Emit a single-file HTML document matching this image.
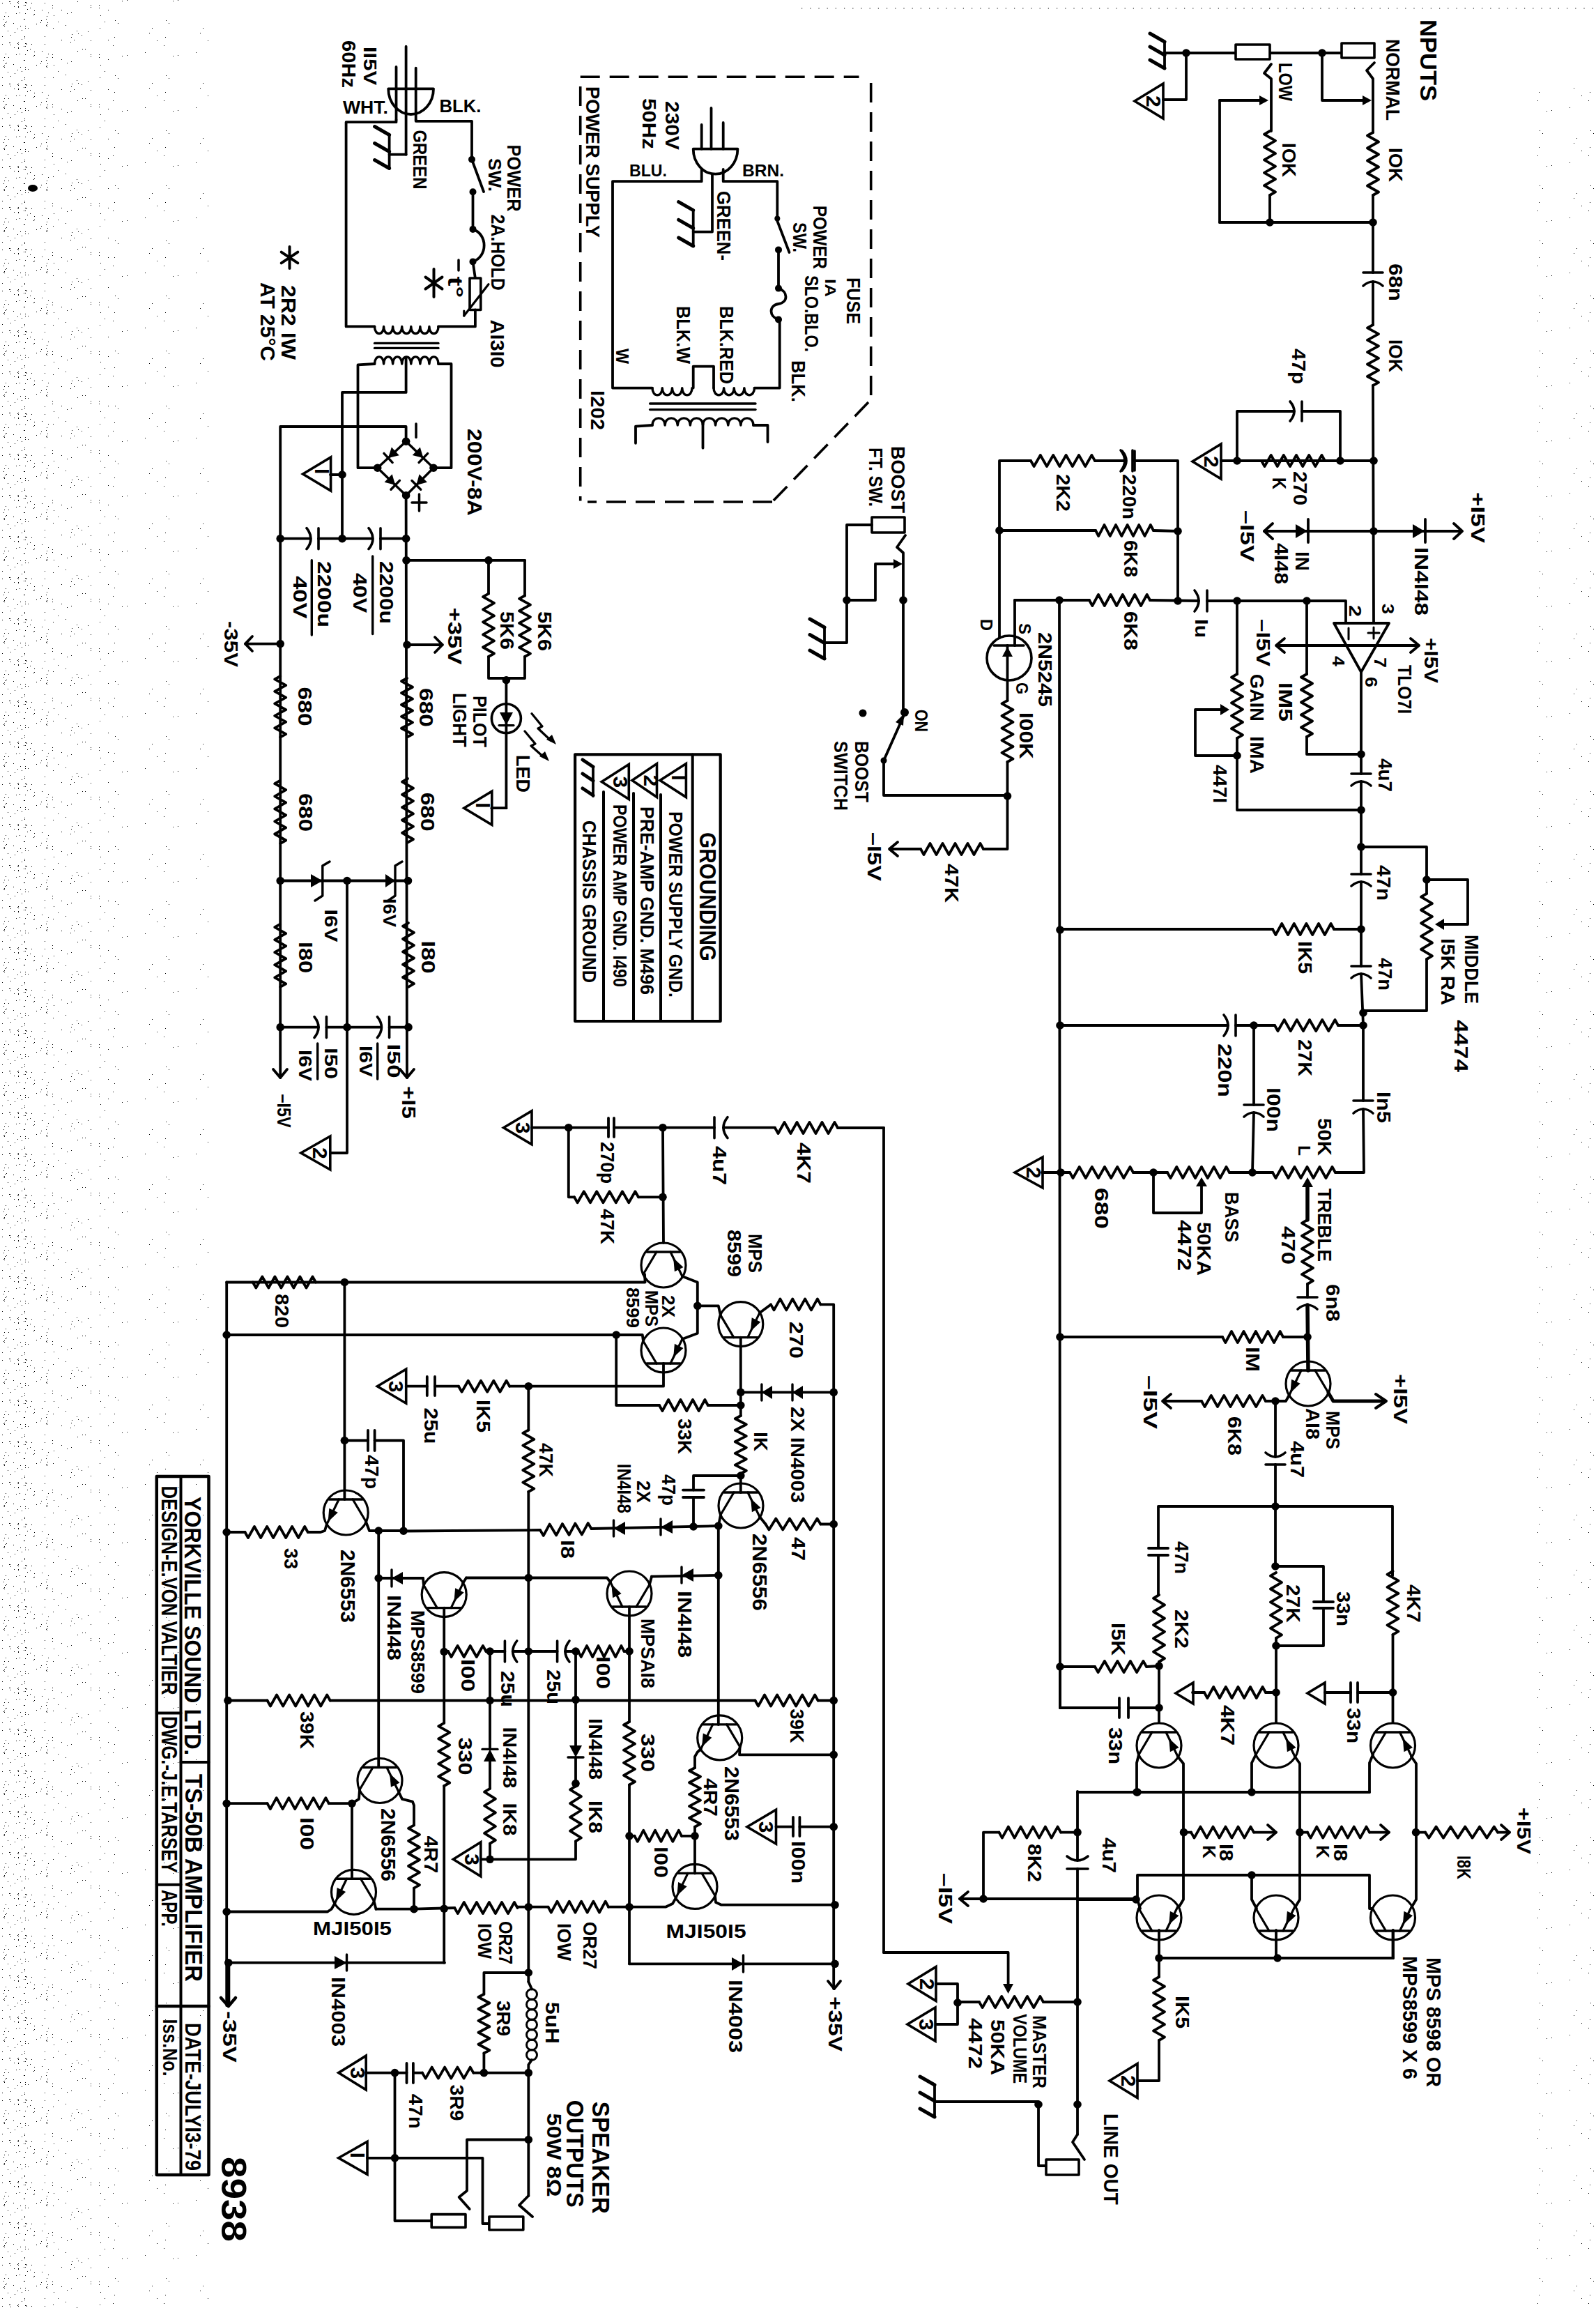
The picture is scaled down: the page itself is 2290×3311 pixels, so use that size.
<!DOCTYPE html>
<html><head><meta charset="utf-8"><style>
html,body{margin:0;padding:0;background:#fff;}
svg{display:block;}
text{font-family:"Liberation Sans",sans-serif;fill:#000;stroke:none;}
</style></head><body>
<svg width="2290" height="3311" viewBox="0 0 2290 3311" stroke="#000" stroke-linecap="round" stroke-linejoin="round">
<rect x="0" y="0" width="2290" height="3311" fill="#fff" stroke="none"/>
<defs><pattern id="sp1" width="61" height="59" patternUnits="userSpaceOnUse" stroke="none" fill="#000" shape-rendering="crispEdges"><rect x="20" y="9" width="1" height="1"/><rect x="25" y="41" width="1" height="1"/><rect x="3" y="4" width="1" height="1"/><rect x="52" y="34" width="1" height="1"/><rect x="6" y="23" width="1" height="1"/><rect x="37" y="3" width="1" height="1"/><rect x="58" y="32" width="1" height="1"/><rect x="13" y="2" width="1" height="1"/><rect x="5" y="27" width="1" height="1"/><rect x="26" y="4" width="1" height="1"/><rect x="15" y="5" width="1" height="1"/><rect x="35" y="27" width="1" height="1"/><rect x="3" y="52" width="1" height="1"/><rect x="36" y="7" width="1" height="1"/><rect x="60" y="14" width="1" height="1"/><rect x="40" y="40" width="1" height="1"/><rect x="37" y="3" width="1" height="1"/><rect x="36" y="37" width="1" height="1"/><rect x="25" y="3" width="1" height="1"/><rect x="14" y="2" width="1" height="1"/><rect x="35" y="54" width="1" height="1"/><rect x="8" y="18" width="1" height="1"/><rect x="26" y="9" width="1" height="1"/><rect x="34" y="7" width="1" height="1"/><rect x="36" y="19" width="1" height="1"/><rect x="35" y="52" width="1" height="1"/><rect x="43" y="11" width="1" height="1"/><rect x="6" y="37" width="1" height="1"/><rect x="36" y="40" width="1" height="1"/><rect x="12" y="23" width="1" height="1"/><rect x="6" y="35" width="1" height="1"/><rect x="45" y="4" width="1" height="1"/><rect x="36" y="3" width="1" height="1"/><rect x="39" y="13" width="1" height="1"/><rect x="31" y="43" width="1" height="1"/><rect x="34" y="27" width="1" height="1"/><rect x="49" y="20" width="1" height="1"/><rect x="29" y="37" width="1" height="1"/><rect x="59" y="29" width="1" height="1"/><rect x="23" y="19" width="1" height="1"/><rect x="15" y="50" width="1" height="1"/><rect x="11" y="44" width="1" height="1"/><rect x="49" y="15" width="1" height="1"/><rect x="5" y="36" width="1" height="1"/><rect x="19" y="33" width="1" height="1"/><rect x="31" y="56" width="1" height="1"/><rect x="21" y="46" width="1" height="1"/><rect x="28" y="18" width="1" height="1"/><rect x="38" y="4" width="1" height="1"/><rect x="7" y="32" width="1" height="1"/><rect x="26" y="10" width="1" height="1"/><rect x="48" y="21" width="1" height="1"/><rect x="9" y="31" width="1" height="1"/><rect x="26" y="2" width="1" height="1"/></pattern><pattern id="sp2" width="67" height="71" patternUnits="userSpaceOnUse" stroke="none" fill="#000" shape-rendering="crispEdges"><rect x="9" y="40" width="1" height="1"/><rect x="43" y="44" width="1" height="1"/><rect x="63" y="58" width="1" height="1"/><rect x="8" y="11" width="1" height="1"/><rect x="34" y="60" width="1" height="1"/><rect x="8" y="7" width="1" height="1"/><rect x="39" y="57" width="1" height="1"/><rect x="36" y="49" width="1" height="1"/><rect x="44" y="2" width="1" height="1"/><rect x="59" y="45" width="1" height="1"/><rect x="21" y="14" width="1" height="1"/><rect x="63" y="7" width="1" height="1"/><rect x="27" y="36" width="1" height="1"/><rect x="16" y="31" width="1" height="1"/><rect x="50" y="50" width="1" height="1"/><rect x="63" y="10" width="1" height="1"/><rect x="21" y="57" width="1" height="1"/><rect x="51" y="70" width="1" height="1"/><rect x="35" y="17" width="1" height="1"/><rect x="55" y="70" width="1" height="1"/><rect x="35" y="53" width="1" height="1"/><rect x="45" y="48" width="1" height="1"/><rect x="29" y="19" width="1" height="1"/><rect x="10" y="22" width="1" height="1"/></pattern><pattern id="sp3" width="73" height="79" patternUnits="userSpaceOnUse" stroke="none" fill="#000" shape-rendering="crispEdges"><rect x="19" y="29" width="1" height="1"/><rect x="29" y="1" width="1" height="1"/><rect x="62" y="75" width="1" height="1"/><rect x="23" y="33" width="1" height="1"/><rect x="36" y="0" width="1" height="1"/><rect x="18" y="53" width="1" height="1"/><rect x="68" y="47" width="1" height="1"/><rect x="72" y="40" width="1" height="1"/><rect x="16" y="65" width="1" height="1"/><rect x="6" y="58" width="1" height="1"/></pattern></defs><g stroke="none" fill="#000" shape-rendering="crispEdges"><rect x="0" y="0" width="70" height="3311" fill="url(#sp1)"/><rect x="70" y="0" width="90" height="3311" fill="url(#sp2)"/><rect x="160" y="0" width="140" height="3311" fill="url(#sp3)"/><rect x="2200" y="120" width="90" height="3191" fill="url(#sp3)"/></g><line x1="1150" y1="12" x2="2290" y2="12" stroke-width="1.2" stroke-dasharray="1.2 11" stroke-linecap="butt"/>
<line x1="1671" y1="60" x2="1671" y2="98" stroke-width="3.8"/>
<line x1="1671" y1="60.0" x2="1650" y2="48.0" stroke-width="5"/>
<line x1="1671" y1="79.0" x2="1650" y2="67.0" stroke-width="5"/>
<line x1="1671" y1="98.0" x2="1650" y2="86.0" stroke-width="5"/>
<line x1="1671" y1="76" x2="1925" y2="76" stroke-width="3.8"/>
<circle cx="1702" cy="76" r="5.8" fill="#000" stroke="none"/>
<polyline points="1702,76 1702,143 1669,143" fill="none" stroke-width="3.8"/>
<polygon points="1628,145 1669,120.0 1669,170.0" fill="none" stroke-width="3.6" stroke-linejoin="miter"/>
<text transform="translate(1645,137) rotate(90)" font-size="30" font-weight="bold" text-anchor="start">2</text>
<rect x="1773" y="64" width="49" height="21" fill="#fff" stroke-width="3.6"/>
<circle cx="1897" cy="76" r="5.8" fill="#000" stroke="none"/>
<rect x="1925" y="62" width="47" height="21" fill="#fff" stroke-width="3.6"/>
<polyline points="1972,90 1961,101 1970,113 1970,190" fill="none" stroke-width="3.8"/>
<polyline points="1897,76 1897,144 1958,144" fill="none" stroke-width="3.8"/>
<polygon points="1955,137 1968,144 1955,151" fill="#000" stroke="none"/>
<polyline points="1970,190 1962.0,194.5 1978.0,203.5 1962.0,212.5 1978.0,221.5 1962.0,230.5 1978.0,239.5 1962.0,248.5 1978.0,257.5 1962.0,266.5 1978.0,275.5 1970,280" fill="none" stroke-width="3.8"/>
<line x1="1970" y1="280" x2="1970" y2="391" stroke-width="3.8"/>
<circle cx="1970" cy="319" r="5.8" fill="#000" stroke="none"/>
<polyline points="1824,92 1814,105 1824,113 1824,188" fill="none" stroke-width="3.8"/>
<polyline points="1750,144 1810,144" fill="none" stroke-width="3.8"/>
<polygon points="1807,137 1820,144 1807,151" fill="#000" stroke="none"/>
<polyline points="1822,188 1814.0,192.6 1830.0,201.8 1814.0,211.0 1830.0,220.2 1814.0,229.4 1830.0,238.6 1814.0,247.8 1830.0,257.0 1814.0,266.2 1830.0,275.4 1822,280" fill="none" stroke-width="3.8"/>
<line x1="1822" y1="280" x2="1822" y2="319" stroke-width="3.8"/>
<circle cx="1822" cy="319" r="5.8" fill="#000" stroke="none"/>
<line x1="1750" y1="144" x2="1750" y2="319" stroke-width="3.8"/>
<line x1="1750" y1="319" x2="1970" y2="319" stroke-width="3.8"/>
<line x1="1956.0" y1="391" x2="1984.0" y2="391" stroke-width="3.6"/>
<path d="M1956.0,410 Q1970,398 1984.0,410" fill="none" stroke-width="3.6"/>
<line x1="1970" y1="404" x2="1970" y2="466" stroke-width="3.8"/>
<polyline points="1970,466 1962.0,470.4 1978.0,479.1 1962.0,487.8 1978.0,496.4 1962.0,505.1 1978.0,513.9 1962.0,522.5 1978.0,531.2 1962.0,540.0 1978.0,548.6 1970,553" fill="none" stroke-width="3.8"/>
<line x1="1970" y1="553" x2="1971" y2="894" stroke-width="3.8"/>
<text transform="translate(2038,28) rotate(90)" font-size="33" font-weight="bold" text-anchor="start" textLength="117" lengthAdjust="spacingAndGlyphs">NPUTS</text>
<text transform="translate(1989,56) rotate(90)" font-size="28" font-weight="bold" text-anchor="start" textLength="117" lengthAdjust="spacingAndGlyphs">NORMAL</text>
<text transform="translate(1835,90) rotate(90)" font-size="28" font-weight="bold" text-anchor="start" textLength="55" lengthAdjust="spacingAndGlyphs">LOW</text>
<text transform="translate(1993,212) rotate(90)" font-size="27" font-weight="bold" text-anchor="start" textLength="49" lengthAdjust="spacingAndGlyphs">IOK</text>
<text transform="translate(1840,205) rotate(90)" font-size="27" font-weight="bold" text-anchor="start" textLength="49" lengthAdjust="spacingAndGlyphs">IOK</text>
<text transform="translate(1993,378) rotate(90)" font-size="28" font-weight="bold" text-anchor="start" textLength="54" lengthAdjust="spacingAndGlyphs">68n</text>
<text transform="translate(1993,487) rotate(90)" font-size="27" font-weight="bold" text-anchor="start" textLength="47" lengthAdjust="spacingAndGlyphs">IOK</text>
<text transform="translate(1854,500) rotate(90)" font-size="28" font-weight="bold" text-anchor="start" textLength="51" lengthAdjust="spacingAndGlyphs">47p</text>
<polyline points="1775,661 1775,590 1857,590" fill="none" stroke-width="3.8"/>
<polyline points="1868,590 1923,590 1923,661" fill="none" stroke-width="3.8"/>
<line x1="1868" y1="576.0" x2="1868" y2="604.0" stroke-width="3.6"/>
<path d="M1851,576.0 Q1863,590 1851,604.0" fill="none" stroke-width="3.6"/>
<line x1="1752" y1="661" x2="1971" y2="661" stroke-width="3.8"/>
<polyline points="1810,661 1814.5,669.0 1823.7,653.0 1832.8,669.0 1841.8,653.0 1851.0,669.0 1860.0,653.0 1869.2,669.0 1878.2,653.0 1887.3,669.0 1896.5,653.0 1901,661" fill="none" stroke-width="3.8"/>
<circle cx="1775" cy="661" r="5.8" fill="#000" stroke="none"/>
<circle cx="1923" cy="661" r="5.8" fill="#000" stroke="none"/>
<circle cx="1971" cy="661" r="5.8" fill="#000" stroke="none"/>
<polygon points="1711,662 1752,637.0 1752,687.0" fill="none" stroke-width="3.6" stroke-linejoin="miter"/>
<text transform="translate(1728,654) rotate(90)" font-size="30" font-weight="bold" text-anchor="start">2</text>
<text transform="translate(1856,676) rotate(90)" font-size="27" font-weight="bold" text-anchor="start" textLength="49" lengthAdjust="spacingAndGlyphs">270</text>
<text transform="translate(1826,685) rotate(90)" font-size="27" font-weight="bold" text-anchor="start" textLength="17" lengthAdjust="spacingAndGlyphs">K</text>
<line x1="1814" y1="762" x2="2096" y2="762" stroke-width="3.8"/>
<polyline points="1826,751 1814,762 1826,773" fill="none" stroke-width="3.8"/>
<polyline points="2086,751 2098,762 2086,773" fill="none" stroke-width="3.8"/>
<polygon points="1859,752 1876,762 1859,772" fill="#000" stroke="none"/>
<line x1="1877" y1="745" x2="1877" y2="778" stroke-width="3.8"/>
<polygon points="2027,752 2044,762 2027,772" fill="#000" stroke="none"/>
<line x1="2045" y1="745" x2="2045" y2="778" stroke-width="3.8"/>
<circle cx="1971" cy="762" r="5.8" fill="#000" stroke="none"/>
<text transform="translate(2111,706) rotate(90)" font-size="28" font-weight="bold" text-anchor="start" textLength="73" lengthAdjust="spacingAndGlyphs">+I5V</text>
<text transform="translate(2030,785) rotate(90)" font-size="28" font-weight="bold" text-anchor="start" textLength="98" lengthAdjust="spacingAndGlyphs">IN4I48</text>
<text transform="translate(1859,791) rotate(90)" font-size="27" font-weight="bold" text-anchor="start" textLength="28" lengthAdjust="spacingAndGlyphs">IN</text>
<text transform="translate(1829,779) rotate(90)" font-size="27" font-weight="bold" text-anchor="start" textLength="59" lengthAdjust="spacingAndGlyphs">4I48</text>
<text transform="translate(1780,732) rotate(90)" font-size="28" font-weight="bold" text-anchor="start" textLength="74" lengthAdjust="spacingAndGlyphs">–I5V</text>
<polyline points="1626,661 1690,661 1690,862" fill="none" stroke-width="3.8"/>
<line x1="1628" y1="647.0" x2="1628" y2="675.0" stroke-width="3.6"/>
<path d="M1610,647.0 Q1622,661 1610,675.0" fill="none" stroke-width="3.6"/>
<circle cx="1690" cy="762" r="5.8" fill="#000" stroke="none"/>
<line x1="1434" y1="761" x2="1572" y2="761" stroke-width="3.8"/>
<polyline points="1572,761 1576.2,769.0 1584.5,753.0 1592.8,769.0 1601.0,753.0 1609.3,769.0 1617.7,753.0 1626.0,769.0 1634.2,753.0 1642.5,769.0 1650.8,753.0 1655,761" fill="none" stroke-width="3.8"/>
<line x1="1655" y1="761" x2="1690" y2="762" stroke-width="3.8"/>
<circle cx="1690" cy="862" r="5.8" fill="#000" stroke="none"/>
<line x1="1456" y1="861" x2="1563" y2="861" stroke-width="3.8"/>
<polyline points="1563,861 1567.3,869.0 1576.0,853.0 1584.8,869.0 1593.5,853.0 1602.2,869.0 1610.8,853.0 1619.5,869.0 1628.2,853.0 1637.0,869.0 1645.7,853.0 1650,861" fill="none" stroke-width="3.8"/>
<line x1="1650" y1="861" x2="1720" y2="862" stroke-width="3.8"/>
<line x1="1732" y1="847.0" x2="1732" y2="877.0" stroke-width="3.6"/>
<path d="M1714,847.0 Q1726,862 1714,877.0" fill="none" stroke-width="3.6"/>
<polyline points="1732,862 1931,862 1931,894" fill="none" stroke-width="3.8"/>
<circle cx="1775" cy="862" r="5.8" fill="#000" stroke="none"/>
<circle cx="1875" cy="862" r="5.8" fill="#000" stroke="none"/>
<text transform="translate(1611,680) rotate(90)" font-size="28" font-weight="bold" text-anchor="start" textLength="65" lengthAdjust="spacingAndGlyphs">220n</text>
<text transform="translate(1613,775) rotate(90)" font-size="28" font-weight="bold" text-anchor="start" textLength="53" lengthAdjust="spacingAndGlyphs">6K8</text>
<text transform="translate(1613,877) rotate(90)" font-size="28" font-weight="bold" text-anchor="start" textLength="56" lengthAdjust="spacingAndGlyphs">6K8</text>
<text transform="translate(1715,888) rotate(90)" font-size="26" font-weight="bold" text-anchor="start" textLength="27" lengthAdjust="spacingAndGlyphs">Iu</text>
<path d="M1914,894 L1993,894 L1953,964 Z" fill="none" stroke-width="3.8"/>
<line x1="1935" y1="901" x2="1935" y2="917" stroke-width="3"/>
<line x1="1971" y1="900" x2="1971" y2="916" stroke-width="3"/>
<line x1="1963" y1="908" x2="1979" y2="908" stroke-width="3"/>
<text transform="translate(1936,868) rotate(90)" font-size="24" font-weight="bold" text-anchor="start" textLength="17" lengthAdjust="spacingAndGlyphs">2</text>
<text transform="translate(1983,866) rotate(90)" font-size="24" font-weight="bold" text-anchor="start" textLength="15" lengthAdjust="spacingAndGlyphs">3</text>
<line x1="1833" y1="926" x2="2034" y2="926" stroke-width="3.8"/>
<polyline points="1843,916 1831,926 1843,936" fill="none" stroke-width="3.8"/>
<polyline points="2024,916 2036,926 2024,936" fill="none" stroke-width="3.8"/>
<text transform="translate(1912,941) rotate(90)" font-size="24" font-weight="bold" text-anchor="start" textLength="15" lengthAdjust="spacingAndGlyphs">4</text>
<text transform="translate(1972,943) rotate(90)" font-size="24" font-weight="bold" text-anchor="start" textLength="15" lengthAdjust="spacingAndGlyphs">7</text>
<text transform="translate(1803,888) rotate(90)" font-size="28" font-weight="bold" text-anchor="start" textLength="68" lengthAdjust="spacingAndGlyphs">–I5V</text>
<text transform="translate(2044,915) rotate(90)" font-size="28" font-weight="bold" text-anchor="start" textLength="65" lengthAdjust="spacingAndGlyphs">+I5V</text>
<text transform="translate(2006,954) rotate(90)" font-size="27" font-weight="bold" text-anchor="start" textLength="70" lengthAdjust="spacingAndGlyphs">TLO7I</text>
<text transform="translate(1959,971) rotate(90)" font-size="24" font-weight="bold" text-anchor="start" textLength="15" lengthAdjust="spacingAndGlyphs">6</text>
<line x1="1953" y1="964" x2="1953" y2="1110" stroke-width="3.8"/>
<circle cx="1953" cy="1082" r="5.8" fill="#000" stroke="none"/>
<line x1="1939.0" y1="1110" x2="1967.0" y2="1110" stroke-width="3.6"/>
<path d="M1939.0,1127 Q1953,1115 1967.0,1127" fill="none" stroke-width="3.6"/>
<text transform="translate(1978,1088) rotate(90)" font-size="27" font-weight="bold" text-anchor="start" textLength="48" lengthAdjust="spacingAndGlyphs">4u7</text>
<line x1="1875" y1="862" x2="1875" y2="967" stroke-width="3.8"/>
<polyline points="1875,967 1867.0,971.5 1883.0,980.5 1867.0,989.5 1883.0,998.5 1867.0,1007.5 1883.0,1016.5 1867.0,1025.5 1883.0,1034.5 1867.0,1043.5 1883.0,1052.5 1875,1057" fill="none" stroke-width="3.8"/>
<polyline points="1875,1057 1875,1082 1953,1082" fill="none" stroke-width="3.8"/>
<text transform="translate(1835,979) rotate(90)" font-size="27" font-weight="bold" text-anchor="start" textLength="56" lengthAdjust="spacingAndGlyphs">IM5</text>
<line x1="1775" y1="862" x2="1775" y2="967" stroke-width="3.8"/>
<polyline points="1775,967 1767.0,971.6 1783.0,980.8 1767.0,990.0 1783.0,999.2 1767.0,1008.4 1783.0,1017.6 1767.0,1026.8 1783.0,1036.0 1767.0,1045.2 1783.0,1054.4 1775,1059" fill="none" stroke-width="3.8"/>
<line x1="1775" y1="1059" x2="1775" y2="1150" stroke-width="3.8"/>
<circle cx="1775" cy="1084" r="5.8" fill="#000" stroke="none"/>
<polyline points="1756,1018 1715,1018 1715,1084 1775,1084" fill="none" stroke-width="3.8"/>
<polygon points="1751,1010 1764,1018 1751,1026" fill="#000" stroke="none"/>
<text transform="translate(1794,967) rotate(90)" font-size="27" font-weight="bold" text-anchor="start" textLength="68" lengthAdjust="spacingAndGlyphs">GAIN</text>
<text transform="translate(1794,1056) rotate(90)" font-size="27" font-weight="bold" text-anchor="start" textLength="54" lengthAdjust="spacingAndGlyphs">IMA</text>
<text transform="translate(1741,1097) rotate(90)" font-size="27" font-weight="bold" text-anchor="start" textLength="55" lengthAdjust="spacingAndGlyphs">447I</text>
<line x1="1953" y1="1121" x2="1953" y2="1254" stroke-width="3.8"/>
<polyline points="1775,1150 1775,1162 1953,1162" fill="none" stroke-width="3.8"/>
<circle cx="1953" cy="1162" r="5.8" fill="#000" stroke="none"/>
<circle cx="1953" cy="1215" r="5.8" fill="#000" stroke="none"/>
<polyline points="1953,1215 2047,1215 2047,1282" fill="none" stroke-width="3.8"/>
<circle cx="2047" cy="1262" r="5.8" fill="#000" stroke="none"/>
<polyline points="2047,1262 2106,1262 2106,1326 2068,1326" fill="none" stroke-width="3.8"/>
<polygon points="2072,1318 2059,1326 2072,1334" fill="#000" stroke="none"/>
<polyline points="2047,1282 2039.0,1286.7 2055.0,1296.1 2039.0,1305.5 2055.0,1314.9 2039.0,1324.3 2055.0,1333.7 2039.0,1343.1 2055.0,1352.5 2039.0,1361.9 2055.0,1371.3 2047,1376" fill="none" stroke-width="3.8"/>
<polyline points="2047,1376 2047,1450 1956,1450" fill="none" stroke-width="3.8"/>
<line x1="1939.0" y1="1254" x2="1967.0" y2="1254" stroke-width="3.6"/>
<path d="M1939.0,1271 Q1953,1259 1967.0,1271" fill="none" stroke-width="3.6"/>
<line x1="1953" y1="1265" x2="1953" y2="1386" stroke-width="3.8"/>
<circle cx="1953" cy="1333" r="5.8" fill="#000" stroke="none"/>
<polyline points="1826,1333 1830.4,1341.0 1839.2,1325.0 1848.0,1341.0 1856.8,1325.0 1865.6,1341.0 1874.4,1325.0 1883.2,1341.0 1892.0,1325.0 1900.8,1341.0 1909.6,1325.0 1914,1333" fill="none" stroke-width="3.8"/>
<line x1="1914" y1="1333" x2="1953" y2="1333" stroke-width="3.8"/>
<line x1="1521" y1="1333" x2="1826" y2="1333" stroke-width="3.8"/>
<line x1="1939.0" y1="1386" x2="1967.0" y2="1386" stroke-width="3.6"/>
<path d="M1939.0,1403 Q1953,1391 1967.0,1403" fill="none" stroke-width="3.6"/>
<line x1="1953" y1="1397" x2="1956" y2="1471" stroke-width="3.8"/>
<circle cx="1956" cy="1453" r="5.8" fill="#000" stroke="none"/>
<circle cx="1956" cy="1471" r="5.8" fill="#000" stroke="none"/>
<polyline points="1829,1471 1833.5,1479.0 1842.7,1463.0 1851.8,1479.0 1860.8,1463.0 1870.0,1479.0 1879.0,1463.0 1888.2,1479.0 1897.2,1463.0 1906.3,1479.0 1915.5,1463.0 1920,1471" fill="none" stroke-width="3.8"/>
<line x1="1920" y1="1471" x2="1956" y2="1471" stroke-width="3.8"/>
<line x1="1773" y1="1471" x2="1829" y2="1471" stroke-width="3.8"/>
<circle cx="1799" cy="1471" r="5.8" fill="#000" stroke="none"/>
<line x1="1773" y1="1456.0" x2="1773" y2="1486.0" stroke-width="3.6"/>
<path d="M1756,1456.0 Q1768,1471 1756,1486.0" fill="none" stroke-width="3.6"/>
<line x1="1521" y1="1471" x2="1762" y2="1471" stroke-width="3.8"/>
<line x1="1799" y1="1471" x2="1799" y2="1585" stroke-width="3.8"/>
<line x1="1785.0" y1="1585" x2="1813.0" y2="1585" stroke-width="3.6"/>
<path d="M1785.0,1602 Q1799,1590 1813.0,1602" fill="none" stroke-width="3.6"/>
<line x1="1799" y1="1596" x2="1797" y2="1682" stroke-width="3.8"/>
<line x1="1956" y1="1471" x2="1956" y2="1579" stroke-width="3.8"/>
<line x1="1942.0" y1="1579" x2="1970.0" y2="1579" stroke-width="3.6"/>
<path d="M1942.0,1597 Q1956,1585 1970.0,1597" fill="none" stroke-width="3.6"/>
<polyline points="1956,1591 1957,1682 1916,1682" fill="none" stroke-width="3.8"/>
<text transform="translate(1976,1241) rotate(90)" font-size="27" font-weight="bold" text-anchor="start" textLength="51" lengthAdjust="spacingAndGlyphs">47n</text>
<text transform="translate(1863,1350) rotate(90)" font-size="27" font-weight="bold" text-anchor="start" textLength="47" lengthAdjust="spacingAndGlyphs">IK5</text>
<text transform="translate(1978,1374) rotate(90)" font-size="27" font-weight="bold" text-anchor="start" textLength="47" lengthAdjust="spacingAndGlyphs">47n</text>
<text transform="translate(2102,1341) rotate(90)" font-size="28" font-weight="bold" text-anchor="start" textLength="99" lengthAdjust="spacingAndGlyphs">MIDDLE</text>
<text transform="translate(2068,1346) rotate(90)" font-size="28" font-weight="bold" text-anchor="start" textLength="96" lengthAdjust="spacingAndGlyphs">I5K RA</text>
<text transform="translate(2087,1463) rotate(90)" font-size="28" font-weight="bold" text-anchor="start" textLength="75" lengthAdjust="spacingAndGlyphs">4474</text>
<text transform="translate(1863,1491) rotate(90)" font-size="28" font-weight="bold" text-anchor="start" textLength="53" lengthAdjust="spacingAndGlyphs">27K</text>
<text transform="translate(1748,1497) rotate(90)" font-size="28" font-weight="bold" text-anchor="start" textLength="77" lengthAdjust="spacingAndGlyphs">220n</text>
<text transform="translate(1818,1560) rotate(90)" font-size="27" font-weight="bold" text-anchor="start" textLength="64" lengthAdjust="spacingAndGlyphs">I00n</text>
<text transform="translate(1976,1566) rotate(90)" font-size="27" font-weight="bold" text-anchor="start" textLength="45" lengthAdjust="spacingAndGlyphs">In5</text>
<text transform="translate(1891,1604) rotate(90)" font-size="28" font-weight="bold" text-anchor="start" textLength="54" lengthAdjust="spacingAndGlyphs">50K</text>
<text transform="translate(1863,1643) rotate(90)" font-size="24" font-weight="bold" text-anchor="start" textLength="15" lengthAdjust="spacingAndGlyphs">L</text>
<polyline points="1826,1682 1830.5,1690.0 1839.5,1674.0 1848.5,1690.0 1857.5,1674.0 1866.5,1690.0 1875.5,1674.0 1884.5,1690.0 1893.5,1674.0 1902.5,1690.0 1911.5,1674.0 1916,1682" fill="none" stroke-width="3.8"/>
<line x1="1797" y1="1682" x2="1826" y2="1682" stroke-width="3.8"/>
<circle cx="1797" cy="1682" r="5.8" fill="#000" stroke="none"/>
<polyline points="1675,1682 1679.5,1690.0 1688.3,1674.0 1697.2,1690.0 1706.2,1674.0 1715.0,1690.0 1724.0,1674.0 1732.8,1690.0 1741.8,1674.0 1750.7,1690.0 1759.5,1674.0 1764,1682" fill="none" stroke-width="3.8"/>
<line x1="1764" y1="1682" x2="1797" y2="1682" stroke-width="3.8"/>
<line x1="1655" y1="1682" x2="1675" y2="1682" stroke-width="3.8"/>
<circle cx="1655" cy="1682" r="5.8" fill="#000" stroke="none"/>
<line x1="1495" y1="1682" x2="1535" y2="1682" stroke-width="3.8"/>
<polyline points="1535,1682 1539.5,1690.0 1548.7,1674.0 1557.8,1690.0 1566.8,1674.0 1576.0,1690.0 1585.0,1674.0 1594.2,1690.0 1603.2,1674.0 1612.3,1690.0 1621.5,1674.0 1626,1682" fill="none" stroke-width="3.8"/>
<line x1="1626" y1="1682" x2="1655" y2="1682" stroke-width="3.8"/>
<polygon points="1716,1702 1724,1689 1732,1702" fill="#000" stroke="none"/>
<polyline points="1724,1700 1724,1740 1655,1740 1655,1682" fill="none" stroke-width="3.8"/>
<polygon points="1868,1703 1876,1689 1884,1703" fill="#000" stroke="none"/>
<line x1="1876" y1="1700" x2="1876" y2="1750" stroke-width="5.5"/>
<polyline points="1876,1750 1868.0,1754.6 1884.0,1763.8 1868.0,1773.0 1884.0,1782.2 1868.0,1791.4 1884.0,1800.6 1868.0,1809.8 1884.0,1819.0 1868.0,1828.2 1884.0,1837.4 1876,1842" fill="none" stroke-width="3.8"/>
<line x1="1876" y1="1842" x2="1876" y2="1861" stroke-width="3.8"/>
<line x1="1862.0" y1="1861" x2="1890.0" y2="1861" stroke-width="3.6"/>
<path d="M1862.0,1878 Q1876,1866 1890.0,1878" fill="none" stroke-width="3.6"/>
<line x1="1876" y1="1872" x2="1877" y2="1966" stroke-width="5.5"/>
<circle cx="1876" cy="1918" r="5.8" fill="#000" stroke="none"/>
<polyline points="1754,1918 1758.3,1926.0 1767.0,1910.0 1775.8,1926.0 1784.5,1910.0 1793.2,1926.0 1801.8,1910.0 1810.5,1926.0 1819.2,1910.0 1828.0,1926.0 1836.7,1910.0 1841,1918" fill="none" stroke-width="3.8"/>
<line x1="1841" y1="1918" x2="1876" y2="1918" stroke-width="3.8"/>
<line x1="1521" y1="1918" x2="1754" y2="1918" stroke-width="3.8"/>
<circle cx="1877" cy="1985" r="32" fill="none" stroke-width="3.2"/>
<line x1="1853.0" y1="1966.0" x2="1901.0" y2="1966.0" stroke-width="3.4"/>
<line x1="1867.0" y1="1966.0" x2="1850.0" y2="2001.0" stroke-width="3.2"/>
<line x1="1887.0" y1="1966.0" x2="1906.0" y2="1998.0" stroke-width="3.2"/>
<polygon points="1851.4,1998.2 1853.1,1978.7 1865.6,1984.8" fill="#000" stroke="none"/>
<polyline points="1850,2001 1845,2010 1831,2010" fill="none" stroke-width="3.8"/>
<polyline points="1906,1998 1913,2010 1985,2010" fill="none" stroke-width="5"/>
<polyline points="1974,2000 1989,2010 1974,2020" fill="none" stroke-width="4"/>
<polyline points="1724,2010 1728.6,2018.0 1737.8,2002.0 1747.0,2018.0 1756.2,2002.0 1765.4,2018.0 1774.6,2002.0 1783.8,2018.0 1793.0,2002.0 1802.2,2018.0 1811.4,2002.0 1816,2010" fill="none" stroke-width="3.8"/>
<line x1="1816" y1="2010" x2="1831" y2="2010" stroke-width="3.8"/>
<line x1="1670" y1="2010" x2="1724" y2="2010" stroke-width="3.8"/>
<polyline points="1680,2000 1668,2010 1680,2020" fill="none" stroke-width="3.8"/>
<circle cx="1830" cy="2010" r="5.8" fill="#000" stroke="none"/>
<line x1="1830" y1="2010" x2="1830" y2="2090" stroke-width="3.8"/>
<line x1="1816.0" y1="2101" x2="1844.0" y2="2101" stroke-width="3.6"/>
<path d="M1816.0,2084 Q1830,2096 1844.0,2084" fill="none" stroke-width="3.6"/>
<line x1="1830" y1="2101" x2="1830" y2="2248" stroke-width="3.8"/>
<circle cx="1830" cy="2161" r="5.8" fill="#000" stroke="none"/>
<polyline points="1662,2221 1662,2161 1998,2161 1998,2260" fill="none" stroke-width="3.8"/>
<text transform="translate(1788,1932) rotate(90)" font-size="27" font-weight="bold" text-anchor="start" textLength="36" lengthAdjust="spacingAndGlyphs">IM</text>
<text transform="translate(1641,1973) rotate(90)" font-size="28" font-weight="bold" text-anchor="start" textLength="77" lengthAdjust="spacingAndGlyphs">–I5V</text>
<text transform="translate(1762,2032) rotate(90)" font-size="28" font-weight="bold" text-anchor="start" textLength="56" lengthAdjust="spacingAndGlyphs">6K8</text>
<text transform="translate(1903,2024) rotate(90)" font-size="28" font-weight="bold" text-anchor="start" textLength="55" lengthAdjust="spacingAndGlyphs">MPS</text>
<text transform="translate(1874,2020) rotate(90)" font-size="28" font-weight="bold" text-anchor="start" textLength="45" lengthAdjust="spacingAndGlyphs">AI8</text>
<text transform="translate(2000,1971) rotate(90)" font-size="28" font-weight="bold" text-anchor="start" textLength="72" lengthAdjust="spacingAndGlyphs">+I5V</text>
<text transform="translate(1852,2067) rotate(90)" font-size="28" font-weight="bold" text-anchor="start" textLength="53" lengthAdjust="spacingAndGlyphs">4u7</text>
<text transform="translate(1758,1710) rotate(90)" font-size="28" font-weight="bold" text-anchor="start" textLength="72" lengthAdjust="spacingAndGlyphs">BASS</text>
<text transform="translate(1718,1753) rotate(90)" font-size="28" font-weight="bold" text-anchor="start" textLength="77" lengthAdjust="spacingAndGlyphs">50KA</text>
<text transform="translate(1690,1750) rotate(90)" font-size="28" font-weight="bold" text-anchor="start" textLength="73" lengthAdjust="spacingAndGlyphs">4472</text>
<text transform="translate(1891,1705) rotate(90)" font-size="28" font-weight="bold" text-anchor="start" textLength="105" lengthAdjust="spacingAndGlyphs">TREBLE</text>
<text transform="translate(1839,1759) rotate(90)" font-size="28" font-weight="bold" text-anchor="start" textLength="55" lengthAdjust="spacingAndGlyphs">470</text>
<text transform="translate(1903,1842) rotate(90)" font-size="28" font-weight="bold" text-anchor="start" textLength="54" lengthAdjust="spacingAndGlyphs">6n8</text>
<line x1="1662" y1="2232" x2="1662" y2="2288" stroke-width="3.8"/>
<line x1="1648" y1="2221" x2="1676" y2="2221" stroke-width="3.8"/>
<line x1="1648" y1="2231" x2="1676" y2="2231" stroke-width="3.8"/>
<polyline points="1663,2288 1655.0,2292.8 1671.0,2302.4 1655.0,2312.0 1671.0,2321.6 1655.0,2331.2 1671.0,2340.8 1655.0,2350.4 1671.0,2360.0 1655.0,2369.6 1671.0,2379.2 1663,2384" fill="none" stroke-width="3.8"/>
<line x1="1663" y1="2384" x2="1663" y2="2471" stroke-width="3.8"/>
<circle cx="1663" cy="2390" r="5.8" fill="#000" stroke="none"/>
<line x1="1521" y1="2391" x2="1571" y2="2391" stroke-width="3.8"/>
<polyline points="1571,2391 1575.6,2399.0 1584.9,2383.0 1594.1,2399.0 1603.4,2383.0 1612.6,2399.0 1621.9,2383.0 1631.1,2399.0 1640.4,2383.0 1645,2391" fill="none" stroke-width="3.8"/>
<line x1="1645" y1="2391" x2="1663" y2="2390" stroke-width="3.8"/>
<circle cx="1663" cy="2450" r="5.8" fill="#000" stroke="none"/>
<polyline points="1621,2450 1663,2450" fill="none" stroke-width="3.8"/>
<line x1="1619" y1="2436" x2="1619" y2="2464" stroke-width="3.8"/>
<line x1="1606" y1="2436" x2="1606" y2="2464" stroke-width="3.8"/>
<line x1="1521" y1="2450" x2="1606" y2="2450" stroke-width="3.8"/>
<circle cx="1830" cy="2247" r="5.8" fill="#000" stroke="none"/>
<polyline points="1831,2256 1823.0,2260.7 1839.0,2270.1 1823.0,2279.5 1839.0,2288.9 1823.0,2298.3 1839.0,2307.7 1823.0,2317.1 1839.0,2326.5 1823.0,2335.9 1839.0,2345.3 1831,2350" fill="none" stroke-width="3.8"/>
<line x1="1831" y1="2350" x2="1831" y2="2471" stroke-width="3.8"/>
<polyline points="1830,2247 1899,2247 1899,2298" fill="none" stroke-width="3.8"/>
<line x1="1885" y1="2298" x2="1913" y2="2298" stroke-width="3.8"/>
<line x1="1885" y1="2307" x2="1913" y2="2307" stroke-width="3.8"/>
<polyline points="1899,2307 1899,2361 1831,2361" fill="none" stroke-width="3.8"/>
<circle cx="1831" cy="2361" r="5.8" fill="#000" stroke="none"/>
<circle cx="1831" cy="2428" r="5.8" fill="#000" stroke="none"/>
<polyline points="1728,2428 1732.4,2436.0 1741.2,2420.0 1750.0,2436.0 1758.8,2420.0 1767.6,2436.0 1776.4,2420.0 1785.2,2436.0 1794.0,2420.0 1802.8,2436.0 1811.6,2420.0 1816,2428" fill="none" stroke-width="3.8"/>
<line x1="1816" y1="2428" x2="1831" y2="2428" stroke-width="3.8"/>
<line x1="1711" y1="2428" x2="1728" y2="2428" stroke-width="3.8"/>
<polygon points="1687,2429 1712,2414.0 1712,2444.0" fill="none" stroke-width="3.6" stroke-linejoin="miter"/>
<text transform="translate(1704,2421) rotate(90)" font-size="30" font-weight="bold" text-anchor="start"></text>
<line x1="1998" y1="2260" x2="1998" y2="2254" stroke-width="3.8"/>
<polyline points="1998.5,2254 1990.5,2258.6 2006.5,2267.7 1990.5,2276.8 2006.5,2285.8 1990.5,2294.9 2006.5,2304.1 1990.5,2313.2 2006.5,2322.2 1990.5,2331.3 2006.5,2340.4 1998.5,2345" fill="none" stroke-width="3.8"/>
<line x1="1998.5" y1="2345" x2="1998.5" y2="2471" stroke-width="3.8"/>
<circle cx="1998.5" cy="2428" r="5.8" fill="#000" stroke="none"/>
<line x1="1948" y1="2428" x2="1998.5" y2="2428" stroke-width="3.8"/>
<line x1="1901" y1="2428" x2="1938" y2="2428" stroke-width="3.8"/>
<line x1="1938" y1="2414" x2="1938" y2="2442" stroke-width="3.8"/>
<line x1="1948" y1="2414" x2="1948" y2="2442" stroke-width="3.8"/>
<polygon points="1876,2429 1901,2414.0 1901,2444.0" fill="none" stroke-width="3.6" stroke-linejoin="miter"/>
<text transform="translate(1893,2421) rotate(90)" font-size="30" font-weight="bold" text-anchor="start"></text>
<circle cx="1663" cy="2504" r="32" fill="none" stroke-width="3.2"/>
<line x1="1687.0" y1="2485.0" x2="1639.0" y2="2485.0" stroke-width="3.4"/>
<line x1="1673.0" y1="2485.0" x2="1690.0" y2="2520.0" stroke-width="3.2"/>
<line x1="1653.0" y1="2485.0" x2="1634.0" y2="2517.0" stroke-width="3.2"/>
<polygon points="1677.2,2493.8 1691.5,2507.1 1678.9,2513.3" fill="#000" stroke="none"/>
<circle cx="1663" cy="2751" r="32" fill="none" stroke-width="3.2"/>
<line x1="1687.0" y1="2770.0" x2="1639.0" y2="2770.0" stroke-width="3.4"/>
<line x1="1673.0" y1="2770.0" x2="1690.0" y2="2735.0" stroke-width="3.2"/>
<line x1="1653.0" y1="2770.0" x2="1634.0" y2="2738.0" stroke-width="3.2"/>
<polygon points="1677.2,2761.2 1691.5,2747.9 1678.9,2741.7" fill="#000" stroke="none"/>
<line x1="1663" y1="2769" x2="1663" y2="2809" stroke-width="3.8"/>
<circle cx="1831" cy="2504" r="32" fill="none" stroke-width="3.2"/>
<line x1="1855.0" y1="2485.0" x2="1807.0" y2="2485.0" stroke-width="3.4"/>
<line x1="1841.0" y1="2485.0" x2="1858.0" y2="2520.0" stroke-width="3.2"/>
<line x1="1821.0" y1="2485.0" x2="1802.0" y2="2517.0" stroke-width="3.2"/>
<polygon points="1845.2,2493.8 1859.5,2507.1 1846.9,2513.3" fill="#000" stroke="none"/>
<circle cx="1831" cy="2751" r="32" fill="none" stroke-width="3.2"/>
<line x1="1855.0" y1="2770.0" x2="1807.0" y2="2770.0" stroke-width="3.4"/>
<line x1="1841.0" y1="2770.0" x2="1858.0" y2="2735.0" stroke-width="3.2"/>
<line x1="1821.0" y1="2770.0" x2="1802.0" y2="2738.0" stroke-width="3.2"/>
<polygon points="1845.2,2761.2 1859.5,2747.9 1846.9,2741.7" fill="#000" stroke="none"/>
<line x1="1831" y1="2769" x2="1831" y2="2809" stroke-width="3.8"/>
<circle cx="1998.5" cy="2504" r="32" fill="none" stroke-width="3.2"/>
<line x1="2022.5" y1="2485.0" x2="1974.5" y2="2485.0" stroke-width="3.4"/>
<line x1="2008.5" y1="2485.0" x2="2025.5" y2="2520.0" stroke-width="3.2"/>
<line x1="1988.5" y1="2485.0" x2="1969.5" y2="2517.0" stroke-width="3.2"/>
<polygon points="2012.8,2493.8 2027.0,2507.1 2014.4,2513.3" fill="#000" stroke="none"/>
<circle cx="1998.5" cy="2751" r="32" fill="none" stroke-width="3.2"/>
<line x1="2022.5" y1="2770.0" x2="1974.5" y2="2770.0" stroke-width="3.4"/>
<line x1="2008.5" y1="2770.0" x2="2025.5" y2="2735.0" stroke-width="3.2"/>
<line x1="1988.5" y1="2770.0" x2="1969.5" y2="2738.0" stroke-width="3.2"/>
<polygon points="2012.8,2761.2 2027.0,2747.9 2014.4,2741.7" fill="#000" stroke="none"/>
<line x1="1998.5" y1="2769" x2="1998.5" y2="2809" stroke-width="3.8"/>
<polyline points="1690,2520 1698,2530 1698,2725 1692,2735" fill="none" stroke-width="3.8"/>
<polyline points="1858,2520 1865,2530 1865,2725 1859,2735" fill="none" stroke-width="3.8"/>
<polyline points="2025,2520 2032,2530 2032,2725 2026,2735" fill="none" stroke-width="3.8"/>
<polyline points="1634,2517 1631,2529 1631,2571" fill="none" stroke-width="3.8"/>
<polyline points="1802,2517 1796,2529 1796,2571" fill="none" stroke-width="3.8"/>
<polyline points="1970,2517 1965,2529 1965,2571" fill="none" stroke-width="3.8"/>
<line x1="1546" y1="2571" x2="1965" y2="2571" stroke-width="3.8"/>
<circle cx="1631" cy="2571" r="5.8" fill="#000" stroke="none"/>
<circle cx="1796" cy="2571" r="5.8" fill="#000" stroke="none"/>
<polyline points="1636,2738 1632,2725 1632,2690 1965,2690 1965,2738 1969,2738" fill="none" stroke-width="3.8"/>
<polyline points="1803,2738 1796,2725 1796,2690" fill="none" stroke-width="3.8"/>
<circle cx="1796" cy="2690" r="5.8" fill="#000" stroke="none"/>
<circle cx="1630" cy="2725" r="5.8" fill="#000" stroke="none"/>
<line x1="1546" y1="2725" x2="1630" y2="2725" stroke-width="3.8"/>
<circle cx="1698.5" cy="2628.6" r="5.8" fill="#000" stroke="none"/>
<line x1="1698.5" y1="2628.6" x2="1709" y2="2628.6" stroke-width="3.8"/>
<polyline points="1709,2628.6 1713.5,2636.6 1722.5,2620.6 1731.5,2636.6 1740.5,2620.6 1749.5,2636.6 1758.5,2620.6 1767.5,2636.6 1776.5,2620.6 1785.5,2636.6 1794.5,2620.6 1799,2628.6" fill="none" stroke-width="3.8"/>
<line x1="1799" y1="2628.6" x2="1831" y2="2628.6" stroke-width="3.8"/>
<polyline points="1819,2618 1831,2628.6 1819,2639" fill="none" stroke-width="3.8"/>
<circle cx="1865" cy="2628.6" r="5.8" fill="#000" stroke="none"/>
<line x1="1865" y1="2628.6" x2="1876" y2="2628.6" stroke-width="3.8"/>
<polyline points="1876,2628.6 1880.5,2636.6 1889.3,2620.6 1898.2,2636.6 1907.2,2620.6 1916.0,2636.6 1925.0,2620.6 1933.8,2636.6 1942.8,2620.6 1951.7,2636.6 1960.5,2620.6 1965,2628.6" fill="none" stroke-width="3.8"/>
<line x1="1965" y1="2628.6" x2="1993" y2="2628.6" stroke-width="3.8"/>
<polyline points="1981,2618 1993,2628.6 1981,2639" fill="none" stroke-width="3.8"/>
<circle cx="2031.6" cy="2628.6" r="5.8" fill="#000" stroke="none"/>
<line x1="2031.6" y1="2628.6" x2="2045" y2="2628.6" stroke-width="3.8"/>
<polyline points="2045,2628.6 2050.2,2636.6 2060.6,2620.6 2071.0,2636.6 2081.4,2620.6 2091.8,2636.6 2102.2,2620.6 2112.6,2636.6 2123.0,2620.6 2133.4,2636.6 2143.8,2620.6 2149,2628.6" fill="none" stroke-width="3.8"/>
<line x1="2149" y1="2628.6" x2="2166" y2="2628.6" stroke-width="3.8"/>
<polyline points="2154,2618 2166,2628.6 2154,2639" fill="none" stroke-width="3.8"/>
<text transform="translate(1750,2645) rotate(90)" font-size="27" font-weight="bold" text-anchor="start" textLength="25" lengthAdjust="spacingAndGlyphs">I8</text>
<text transform="translate(1726,2647) rotate(90)" font-size="26" font-weight="bold" text-anchor="start" textLength="19" lengthAdjust="spacingAndGlyphs">K</text>
<text transform="translate(1914,2645) rotate(90)" font-size="27" font-weight="bold" text-anchor="start" textLength="25" lengthAdjust="spacingAndGlyphs">I8</text>
<text transform="translate(1889,2647) rotate(90)" font-size="26" font-weight="bold" text-anchor="start" textLength="19" lengthAdjust="spacingAndGlyphs">K</text>
<text transform="translate(2091,2662) rotate(90)" font-size="28" font-weight="bold" text-anchor="start" textLength="34" lengthAdjust="spacingAndGlyphs">I8K</text>
<text transform="translate(2177,2593) rotate(90)" font-size="28" font-weight="bold" text-anchor="start" textLength="67" lengthAdjust="spacingAndGlyphs">+I5V</text>
<text transform="translate(1686,2211) rotate(90)" font-size="27" font-weight="bold" text-anchor="start" textLength="47" lengthAdjust="spacingAndGlyphs">47n</text>
<text transform="translate(1686,2309) rotate(90)" font-size="28" font-weight="bold" text-anchor="start" textLength="56" lengthAdjust="spacingAndGlyphs">2K2</text>
<text transform="translate(1846,2273) rotate(90)" font-size="28" font-weight="bold" text-anchor="start" textLength="55" lengthAdjust="spacingAndGlyphs">27K</text>
<text transform="translate(1918,2283) rotate(90)" font-size="28" font-weight="bold" text-anchor="start" textLength="50" lengthAdjust="spacingAndGlyphs">33n</text>
<text transform="translate(1752,2446) rotate(90)" font-size="28" font-weight="bold" text-anchor="start" textLength="58" lengthAdjust="spacingAndGlyphs">4K7</text>
<text transform="translate(2019,2273) rotate(90)" font-size="28" font-weight="bold" text-anchor="start" textLength="55" lengthAdjust="spacingAndGlyphs">4K7</text>
<text transform="translate(1933,2450) rotate(90)" font-size="28" font-weight="bold" text-anchor="start" textLength="51" lengthAdjust="spacingAndGlyphs">33n</text>
<line x1="1663" y1="2809" x2="1999" y2="2809" stroke-width="3.8"/>
<line x1="1999" y1="2809" x2="1999" y2="2769" stroke-width="3.8"/>
<circle cx="1663" cy="2809" r="5.8" fill="#000" stroke="none"/>
<circle cx="1833" cy="2809" r="5.8" fill="#000" stroke="none"/>
<polyline points="1663,2836 1655.0,2840.6 1671.0,2849.7 1655.0,2858.8 1671.0,2867.8 1655.0,2876.9 1671.0,2886.1 1655.0,2895.2 1671.0,2904.2 1655.0,2913.3 1671.0,2922.4 1663,2927" fill="none" stroke-width="3.8"/>
<line x1="1663" y1="2809" x2="1663" y2="2836" stroke-width="3.8"/>
<polyline points="1663,2927 1663,2985 1632,2985" fill="none" stroke-width="3.8"/>
<polygon points="1592,2985 1632,2960.5 1632,3009.5" fill="none" stroke-width="3.6" stroke-linejoin="miter"/>
<text transform="translate(1609,2977) rotate(90)" font-size="30" font-weight="bold" text-anchor="start">2</text>
<text transform="translate(1687,2863) rotate(90)" font-size="27" font-weight="bold" text-anchor="start" textLength="47" lengthAdjust="spacingAndGlyphs">IK5</text>
<text transform="translate(2047,2808) rotate(90)" font-size="30" font-weight="bold" text-anchor="start" textLength="186" lengthAdjust="spacingAndGlyphs">MPS 8598  OR</text>
<text transform="translate(2013,2806) rotate(90)" font-size="30" font-weight="bold" text-anchor="start" textLength="177" lengthAdjust="spacingAndGlyphs">MPS8599 X 6</text>
<polyline points="1434,915 1434,661 1479,661" fill="none" stroke-width="3.8"/>
<polyline points="1479,661 1483.6,669.0 1492.8,653.0 1502.0,669.0 1511.2,653.0 1520.4,669.0 1529.6,653.0 1538.8,669.0 1548.0,653.0 1557.2,669.0 1566.4,653.0 1571,661" fill="none" stroke-width="3.8"/>
<line x1="1571" y1="661" x2="1614" y2="661" stroke-width="3.8"/>
<line x1="1625" y1="646.0" x2="1625" y2="676.0" stroke-width="3.6"/>
<path d="M1608,646.0 Q1620,661 1608,676.0" fill="none" stroke-width="3.6"/>
<circle cx="1434" cy="761" r="5.8" fill="#000" stroke="none"/>
<circle cx="1520" cy="861" r="5.8" fill="#000" stroke="none"/>
<line x1="1520" y1="861" x2="1521" y2="2450" stroke-width="3.8"/>
<polyline points="1456,861 1456,926" fill="none" stroke-width="3.8"/>
<circle cx="1448" cy="944" r="32" fill="none" stroke-width="3.6"/>
<line x1="1426" y1="926" x2="1469" y2="926" stroke-width="3.4"/>
<line x1="1445.5" y1="926" x2="1445.5" y2="1005" stroke-width="3.8"/>
<polygon points="1438,942 1445.5,928 1453,942" fill="#000" stroke="none"/>
<polyline points="1445.5,1005 1437.5,1009.4 1453.5,1018.2 1437.5,1027.0 1453.5,1035.8 1437.5,1044.6 1453.5,1053.4 1437.5,1062.2 1453.5,1071.0 1437.5,1079.8 1453.5,1088.6 1445.5,1093" fill="none" stroke-width="3.8"/>
<line x1="1445.5" y1="1093" x2="1445.5" y2="1142" stroke-width="3.8"/>
<circle cx="1445.5" cy="1142" r="5.8" fill="#000" stroke="none"/>
<polyline points="1268,1091 1268,1141 1445.5,1141" fill="none" stroke-width="3.8"/>
<polyline points="1445.5,1141 1445.5,1218 1411,1218" fill="none" stroke-width="3.8"/>
<polyline points="1321,1218 1325.5,1226.0 1334.5,1210.0 1343.5,1226.0 1352.5,1210.0 1361.5,1226.0 1370.5,1210.0 1379.5,1226.0 1388.5,1210.0 1397.5,1226.0 1406.5,1210.0 1411,1218" fill="none" stroke-width="3.8"/>
<line x1="1277" y1="1218" x2="1321" y2="1218" stroke-width="3.8"/>
<polyline points="1288,1208 1276,1218 1288,1228" fill="none" stroke-width="3.8"/>
<text transform="translate(1407,888) rotate(90)" font-size="24" font-weight="bold" text-anchor="start" textLength="17" lengthAdjust="spacingAndGlyphs">D</text>
<text transform="translate(1462,894) rotate(90)" font-size="24" font-weight="bold" text-anchor="start" textLength="16" lengthAdjust="spacingAndGlyphs">S</text>
<text transform="translate(1458,979) rotate(90)" font-size="24" font-weight="bold" text-anchor="start" textLength="17" lengthAdjust="spacingAndGlyphs">G</text>
<text transform="translate(1490,907) rotate(90)" font-size="28" font-weight="bold" text-anchor="start" textLength="107" lengthAdjust="spacingAndGlyphs">2N5245</text>
<text transform="translate(1463,1022) rotate(90)" font-size="28" font-weight="bold" text-anchor="start" textLength="67" lengthAdjust="spacingAndGlyphs">I00K</text>
<text transform="translate(1516,680) rotate(90)" font-size="28" font-weight="bold" text-anchor="start" textLength="54" lengthAdjust="spacingAndGlyphs">2K2</text>
<text transform="translate(1245,1194) rotate(90)" font-size="28" font-weight="bold" text-anchor="start" textLength="70" lengthAdjust="spacingAndGlyphs">–I5V</text>
<text transform="translate(1356,1239) rotate(90)" font-size="28" font-weight="bold" text-anchor="start" textLength="56" lengthAdjust="spacingAndGlyphs">47K</text>
<rect x="1251" y="742" width="47" height="22" fill="#fff" stroke-width="3.6"/>
<polyline points="1251,753 1215,753 1215,922 1183,922" fill="none" stroke-width="3.8"/>
<line x1="1183" y1="900" x2="1183" y2="945" stroke-width="3.8"/>
<line x1="1183" y1="900.0" x2="1162" y2="888.0" stroke-width="5"/>
<line x1="1183" y1="922.5" x2="1162" y2="910.5" stroke-width="5"/>
<line x1="1183" y1="945.0" x2="1162" y2="933.0" stroke-width="5"/>
<circle cx="1215" cy="861" r="5.8" fill="#000" stroke="none"/>
<polyline points="1215,861 1256,861 1256,809 1287,809" fill="none" stroke-width="3.8"/>
<polygon points="1282,802 1295,809 1282,816" fill="#000" stroke="none"/>
<polyline points="1299,768 1287,785 1296,793 1296,1022" fill="none" stroke-width="3.8"/>
<circle cx="1296" cy="861" r="5.8" fill="#000" stroke="none"/>
<circle cx="1298" cy="1022" r="6" fill="#000" stroke="none"/>
<line x1="1268" y1="1091" x2="1297" y2="1026" stroke-width="3.8"/>
<polygon points="1285,1036 1297,1024 1296,1041" fill="#000" stroke="none"/>
<circle cx="1268" cy="1091" r="4.5" fill="#000" stroke="none"/>
<circle cx="1238" cy="1023" r="5.5" fill="#000" stroke="none"/>
<text transform="translate(1313,1018) rotate(90)" font-size="26" font-weight="bold" text-anchor="start" textLength="32" lengthAdjust="spacingAndGlyphs">ON</text>
<text transform="translate(1227,1063) rotate(90)" font-size="28" font-weight="bold" text-anchor="start" textLength="88" lengthAdjust="spacingAndGlyphs">BOOST</text>
<text transform="translate(1197,1063) rotate(90)" font-size="28" font-weight="bold" text-anchor="start" textLength="100" lengthAdjust="spacingAndGlyphs">SWITCH</text>
<text transform="translate(1279,640) rotate(90)" font-size="28" font-weight="bold" text-anchor="start" textLength="96" lengthAdjust="spacingAndGlyphs">BOOST</text>
<text transform="translate(1247,642) rotate(90)" font-size="28" font-weight="bold" text-anchor="start" textLength="85" lengthAdjust="spacingAndGlyphs">FT. SW.</text>
<circle cx="1521" cy="1334" r="5.8" fill="#000" stroke="none"/>
<circle cx="1521" cy="1471" r="5.8" fill="#000" stroke="none"/>
<circle cx="1522" cy="1682" r="5.8" fill="#000" stroke="none"/>
<circle cx="1521" cy="1918" r="5.8" fill="#000" stroke="none"/>
<line x1="1521" y1="2450" x2="1521" y2="2391" stroke-width="3.8"/>
<circle cx="1521" cy="2391" r="5.8" fill="#000" stroke="none"/>
<polygon points="1456,1682 1496,1660.0 1496,1704.0" fill="none" stroke-width="3.6" stroke-linejoin="miter"/>
<text transform="translate(1473,1674) rotate(90)" font-size="30" font-weight="bold" text-anchor="start">2</text>
<line x1="1268" y1="1618" x2="1268" y2="2801" stroke-width="3.8"/>
<polyline points="1268,2801 1446.6,2801 1446.6,2850" fill="none" stroke-width="3.8"/>
<polygon points="1439,2846 1446.6,2860 1454,2846" fill="#000" stroke="none"/>
<polyline points="1112,1618 1116.5,1626.0 1125.5,1610.0 1134.5,1626.0 1143.5,1610.0 1152.5,1626.0 1161.5,1610.0 1170.5,1626.0 1179.5,1610.0 1188.5,1626.0 1197.5,1610.0 1202,1618" fill="none" stroke-width="3.8"/>
<polyline points="1202,1618 1268,1618" fill="none" stroke-width="3.8"/>
<text transform="translate(1144,1639) rotate(90)" font-size="28" font-weight="bold" text-anchor="start" textLength="59" lengthAdjust="spacingAndGlyphs">4K7</text>
<text transform="translate(1571,1704) rotate(90)" font-size="28" font-weight="bold" text-anchor="start" textLength="59" lengthAdjust="spacingAndGlyphs">680</text>
<polyline points="1546,2570 1546,2669" fill="none" stroke-width="3.8"/>
<circle cx="1632" cy="2571" r="5.8" fill="#000" stroke="none"/>
<circle cx="1546" cy="2628.6" r="5.8" fill="#000" stroke="none"/>
<polyline points="1433.5,2628.6 1437.9,2636.6 1446.8,2620.6 1455.6,2636.6 1464.5,2620.6 1473.3,2636.6 1482.2,2620.6 1491.0,2636.6 1499.9,2620.6 1508.7,2636.6 1517.6,2620.6 1522,2628.6" fill="none" stroke-width="3.8"/>
<polyline points="1522,2628.6 1546,2628.6" fill="none" stroke-width="3.8"/>
<polyline points="1433.5,2628.6 1411,2628.6 1411,2724" fill="none" stroke-width="3.8"/>
<circle cx="1411" cy="2724" r="5.8" fill="#000" stroke="none"/>
<line x1="1377" y1="2724" x2="1630" y2="2724" stroke-width="3.8"/>
<polyline points="1389,2714 1377,2724 1389,2734" fill="none" stroke-width="3.8"/>
<line x1="1531.0" y1="2681" x2="1561.0" y2="2681" stroke-width="3.6"/>
<path d="M1531.0,2663 Q1546,2675 1561.0,2663" fill="none" stroke-width="3.6"/>
<line x1="1546" y1="2681" x2="1546" y2="3062" stroke-width="3.8"/>
<text transform="translate(1595,2328) rotate(90)" font-size="28" font-weight="bold" text-anchor="start" textLength="47" lengthAdjust="spacingAndGlyphs">I5K</text>
<text transform="translate(1591,2478) rotate(90)" font-size="28" font-weight="bold" text-anchor="start" textLength="53" lengthAdjust="spacingAndGlyphs">33n</text>
<text transform="translate(1582,2636) rotate(90)" font-size="28" font-weight="bold" text-anchor="start" textLength="51" lengthAdjust="spacingAndGlyphs">4u7</text>
<text transform="translate(1475,2645) rotate(90)" font-size="28" font-weight="bold" text-anchor="start" textLength="55" lengthAdjust="spacingAndGlyphs">8K2</text>
<text transform="translate(1347,2687) rotate(90)" font-size="28" font-weight="bold" text-anchor="start" textLength="73" lengthAdjust="spacingAndGlyphs">–I5V</text>
<circle cx="1546" cy="2872" r="5.8" fill="#000" stroke="none"/>
<line x1="1497" y1="2872" x2="1546" y2="2872" stroke-width="3.8"/>
<polyline points="1405,2872 1409.6,2880.0 1418.8,2864.0 1428.0,2880.0 1437.2,2864.0 1446.4,2880.0 1455.6,2864.0 1464.8,2880.0 1474.0,2864.0 1483.2,2880.0 1492.4,2864.0 1497,2872" fill="none" stroke-width="3.8"/>
<line x1="1374" y1="2872" x2="1405" y2="2872" stroke-width="3.8"/>
<circle cx="1374" cy="2873" r="5.8" fill="#000" stroke="none"/>
<polygon points="1303,2846 1343,2821.5 1343,2870.5" fill="none" stroke-width="3.6" stroke-linejoin="miter"/>
<text transform="translate(1320,2838) rotate(90)" font-size="30" font-weight="bold" text-anchor="start">2</text>
<polygon points="1302,2904 1342,2880.0 1342,2928.0" fill="none" stroke-width="3.6" stroke-linejoin="miter"/>
<text transform="translate(1319,2896) rotate(90)" font-size="30" font-weight="bold" text-anchor="start">3</text>
<polyline points="1343,2846 1374,2846 1374,2904 1343,2904" fill="none" stroke-width="3.8"/>
<text transform="translate(1482,2891) rotate(90)" font-size="28" font-weight="bold" text-anchor="start" textLength="105" lengthAdjust="spacingAndGlyphs">MASTER</text>
<text transform="translate(1454,2889) rotate(90)" font-size="28" font-weight="bold" text-anchor="start" textLength="100" lengthAdjust="spacingAndGlyphs">VOLUME</text>
<text transform="translate(1422,2897) rotate(90)" font-size="28" font-weight="bold" text-anchor="start" textLength="80" lengthAdjust="spacingAndGlyphs">50KA</text>
<text transform="translate(1390,2895) rotate(90)" font-size="28" font-weight="bold" text-anchor="start" textLength="73" lengthAdjust="spacingAndGlyphs">4472</text>
<line x1="1341" y1="2991" x2="1341" y2="3037" stroke-width="3.8"/>
<line x1="1341" y1="2991.0" x2="1320" y2="2979.0" stroke-width="5"/>
<line x1="1341" y1="3014.0" x2="1320" y2="3002.0" stroke-width="5"/>
<line x1="1341" y1="3037.0" x2="1320" y2="3025.0" stroke-width="5"/>
<polyline points="1341,3015 1490,3015 1490,3107 1501,3107" fill="none" stroke-width="3.8"/>
<circle cx="1490" cy="3019" r="5.8" fill="#000" stroke="none"/>
<rect x="1501" y="3098" width="47" height="22" fill="#fff" stroke-width="3.6"/>
<circle cx="1546" cy="3019" r="5.8" fill="#000" stroke="none"/>
<polyline points="1546,3062 1539,3073 1556,3098" fill="none" stroke-width="3.8"/>
<text transform="translate(1584,3032) rotate(90)" font-size="30" font-weight="bold" text-anchor="start" textLength="131" lengthAdjust="spacingAndGlyphs">LINE OUT</text>
<line x1="832.7" y1="110.3" x2="1232.5" y2="110.3" stroke-width="3.6" stroke-dasharray="28 14" stroke-linecap="butt"/>
<line x1="1249.7" y1="119" x2="1249.7" y2="567" stroke-width="3.6" stroke-dasharray="28 14" stroke-linecap="butt"/>
<line x1="1246" y1="577" x2="1108" y2="720" stroke-width="3.6" stroke-dasharray="28 14" stroke-linecap="butt"/>
<line x1="1108" y1="720" x2="843" y2="720" stroke-width="3.6" stroke-dasharray="28 14" stroke-linecap="butt"/>
<line x1="832.7" y1="124" x2="832.7" y2="718.5" stroke-width="3.6" stroke-dasharray="28 14" stroke-linecap="butt"/>
<path d="M994.7,213.7 L1058.4,213.7 A31.85,36 0 0 1 994.7,213.7 Z" fill="none" stroke-width="3.8"/>
<line x1="1006.7" y1="179" x2="1006.7" y2="213.7" stroke-width="3.8"/>
<line x1="1020.5" y1="155" x2="1020.5" y2="213.7" stroke-width="3.8"/>
<line x1="1037.7" y1="176" x2="1037.7" y2="213.7" stroke-width="3.8"/>
<polyline points="1006.7,243 1006.7,260.2 879,260.2 879,556.6 936,556.6" fill="none" stroke-width="3.8"/>
<polyline points="1022,250 1022,332.6 994.7,332.6" fill="none" stroke-width="3.8"/>
<line x1="994.7" y1="301.6" x2="994.7" y2="353" stroke-width="3.8"/>
<line x1="994.7" y1="301.6" x2="973.7" y2="289.6" stroke-width="5"/>
<line x1="994.7" y1="327.3" x2="973.7" y2="315.3" stroke-width="5"/>
<line x1="994.7" y1="353.0" x2="973.7" y2="341.0" stroke-width="5"/>
<polyline points="1037.7,243 1037.7,260.2 1115.3,260.2 1115.3,313" fill="none" stroke-width="3.8"/>
<line x1="1114" y1="313.6" x2="1132.5" y2="362" stroke-width="3.8"/>
<circle cx="1115.3" cy="313.6" r="4" fill="#000" stroke="none"/>
<circle cx="1117" cy="358.4" r="5" fill="#000" stroke="none"/>
<line x1="1117" y1="358.4" x2="1117" y2="413.6" stroke-width="3.8"/>
<circle cx="1117" cy="413.6" r="5" fill="#000" stroke="none"/>
<path d="M1117,413.6 C1131,418 1131,434 1117,436 C1103,438 1103,454 1117,458.4" fill="none" stroke-width="3.8"/>
<circle cx="1117" cy="458.4" r="5" fill="#000" stroke="none"/>
<polyline points="1118.7,458.4 1118.7,556.6 1082.5,556.6" fill="none" stroke-width="3.8"/>
<path d="M936,556.6 C936.0,570.1 950.25,570.1 950.25,556.6 C950.25,570.1 964.5,570.1 964.5,556.6 C964.5,570.1 978.75,570.1 978.75,556.6 C978.75,570.1 993.0,570.1 993.0,556.6" fill="none" stroke-width="3.4"/>
<path d="M1024,556.6 C1024.0,570.1 1038.625,570.1 1038.625,556.6 C1038.625,570.1 1053.25,570.1 1053.25,556.6 C1053.25,570.1 1067.875,570.1 1067.875,556.6 C1067.875,570.1 1082.5,570.1 1082.5,556.6" fill="none" stroke-width="3.4"/>
<polyline points="994.7,556.6 994.7,525.6 1024,525.6 1024,556.6" fill="none" stroke-width="3.8"/>
<line x1="932.6" y1="579" x2="1084" y2="579" stroke-width="3.4"/>
<line x1="932.6" y1="587.6" x2="1084" y2="587.6" stroke-width="3.4"/>
<path d="M936,610 C936.0,596.5 954.125,596.5 954.125,610 C954.125,596.5 972.25,596.5 972.25,610 C972.25,596.5 990.375,596.5 990.375,610 C990.375,596.5 1008.5,596.5 1008.5,610 C1008.5,596.5 1026.625,596.5 1026.625,610 C1026.625,596.5 1044.75,596.5 1044.75,610 C1044.75,596.5 1062.875,596.5 1062.875,610 C1062.875,596.5 1081.0,596.5 1081.0,610" fill="none" stroke-width="3.4"/>
<line x1="1008.5" y1="608" x2="1008.5" y2="642.7" stroke-width="3.8"/>
<polyline points="936,610 912,611.7 912,635.8" fill="none" stroke-width="3.8"/>
<polyline points="1081,610 1101.5,610 1101.5,634" fill="none" stroke-width="3.8"/>
<text transform="translate(841,124) rotate(90)" font-size="28" font-weight="bold" text-anchor="start" textLength="217" lengthAdjust="spacingAndGlyphs">POWER  SUPPLY</text>
<text transform="translate(955,145) rotate(90)" font-size="28" font-weight="bold" text-anchor="start" textLength="70" lengthAdjust="spacingAndGlyphs">230V</text>
<text transform="translate(922,141) rotate(90)" font-size="28" font-weight="bold" text-anchor="start" textLength="73" lengthAdjust="spacingAndGlyphs">50Hz</text>
<text transform="translate(1029,274) rotate(90)" font-size="28" font-weight="bold" text-anchor="start" textLength="100" lengthAdjust="spacingAndGlyphs">GREEN-</text>
<text transform="translate(1167,295) rotate(90)" font-size="28" font-weight="bold" text-anchor="start" textLength="91" lengthAdjust="spacingAndGlyphs">POWER</text>
<text transform="translate(1138,319) rotate(90)" font-size="28" font-weight="bold" text-anchor="start" textLength="43" lengthAdjust="spacingAndGlyphs">SW.</text>
<text transform="translate(1215,398) rotate(90)" font-size="28" font-weight="bold" text-anchor="start" textLength="67" lengthAdjust="spacingAndGlyphs">FUSE</text>
<text transform="translate(1184,400) rotate(90)" font-size="22" font-weight="bold" text-anchor="start" textLength="26" lengthAdjust="spacingAndGlyphs">IA</text>
<text transform="translate(1155,395) rotate(90)" font-size="28" font-weight="bold" text-anchor="start" textLength="110" lengthAdjust="spacingAndGlyphs">SLO.BLO.</text>
<text transform="translate(1136,517) rotate(90)" font-size="28" font-weight="bold" text-anchor="start" textLength="60" lengthAdjust="spacingAndGlyphs">BLK.</text>
<text transform="translate(1032.6,439) rotate(90)" font-size="28" font-weight="bold" text-anchor="start" textLength="112" lengthAdjust="spacingAndGlyphs">BLK.RED</text>
<text transform="translate(970.5,439) rotate(90)" font-size="28" font-weight="bold" text-anchor="start" textLength="83" lengthAdjust="spacingAndGlyphs">BLK.W</text>
<text transform="translate(884,500) rotate(90)" font-size="26" font-weight="bold" text-anchor="start" textLength="22" lengthAdjust="spacingAndGlyphs">W</text>
<text transform="translate(848,560) rotate(90)" font-size="28" font-weight="bold" text-anchor="start" textLength="57" lengthAdjust="spacingAndGlyphs">I202</text>
<text x="903" y="253" font-size="24" font-weight="bold" textLength="54" lengthAdjust="spacingAndGlyphs">BLU.</text>
<text x="1065" y="253" font-size="24" font-weight="bold" textLength="60" lengthAdjust="spacingAndGlyphs">BRN.</text>
<text transform="translate(522,67) rotate(90)" font-size="26" font-weight="bold" text-anchor="start" textLength="55" lengthAdjust="spacingAndGlyphs">II5V</text>
<text transform="translate(491,58) rotate(90)" font-size="28" font-weight="bold" text-anchor="start" textLength="68" lengthAdjust="spacingAndGlyphs">60Hz</text>
<path d="M557.2,127.3 L622,127.3 A32.4,36.7 0 0 1 557.2,127.3 Z" fill="none" stroke-width="3.8"/>
<line x1="568.5" y1="96" x2="568.5" y2="172" stroke-width="3.8"/>
<line x1="582.6" y1="66.7" x2="582.6" y2="221.7" stroke-width="3.8"/>
<line x1="596.7" y1="97.7" x2="596.7" y2="172" stroke-width="3.8"/>
<text x="492" y="162.5" font-size="26" font-weight="bold" textLength="65" lengthAdjust="spacingAndGlyphs">WHT.</text>
<text x="630.5" y="161" font-size="26" font-weight="bold" textLength="60" lengthAdjust="spacingAndGlyphs">BLK.</text>
<polyline points="568.5,172 568.5,175.2 496.6,175.2 496.6,468.4 537.5,468.4" fill="none" stroke-width="3.8"/>
<polyline points="582.6,221.7 558.6,221.7" fill="none" stroke-width="3.8"/>
<line x1="558.6" y1="193.5" x2="558.6" y2="241.5" stroke-width="3.8"/>
<line x1="558.6" y1="193.5" x2="537.6" y2="181.5" stroke-width="5"/>
<line x1="558.6" y1="217.5" x2="537.6" y2="205.5" stroke-width="5"/>
<line x1="558.6" y1="241.5" x2="537.6" y2="229.5" stroke-width="5"/>
<text transform="translate(592.5,186.5) rotate(90)" font-size="28" font-weight="bold" text-anchor="start" textLength="85" lengthAdjust="spacingAndGlyphs">GREEN</text>
<polyline points="596.7,172 596.7,173.8 677,173.8 677,228.8" fill="none" stroke-width="3.8"/>
<circle cx="677" cy="228.8" r="5" fill="#000" stroke="none"/>
<line x1="677" y1="228.8" x2="694" y2="275" stroke-width="3.8"/>
<circle cx="678.5" cy="275.3" r="5" fill="#000" stroke="none"/>
<line x1="678.5" y1="275.3" x2="678.5" y2="328.9" stroke-width="3.8"/>
<circle cx="678.5" cy="328.9" r="5" fill="#000" stroke="none"/>
<path d="M678.5,328.9 C700,336 700,368 678.5,375.4" fill="none" stroke-width="3.8"/>
<circle cx="678.5" cy="375.4" r="5" fill="#000" stroke="none"/>
<line x1="678.5" y1="375.4" x2="681.9" y2="399" stroke-width="3.8"/>
<rect x="674" y="399" width="15.799999999999955" height="45.5" fill="#fff" stroke-width="3.6"/>
<line x1="665.8" y1="453" x2="701" y2="407.8" stroke-width="3.2"/>
<line x1="665.8" y1="453" x2="665.8" y2="446" stroke-width="3.2"/>
<polyline points="681.9,444.5 681.9,468.4 629,468.4" fill="none" stroke-width="3.8"/>
<path d="M537.5,468.4 C537.5,481.9 550.5714285714286,481.9 550.5714285714286,468.4 C550.5714285714286,481.9 563.6428571428571,481.9 563.6428571428571,468.4 C563.6428571428571,481.9 576.7142857142857,481.9 576.7142857142857,468.4 C576.7142857142857,481.9 589.7857142857142,481.9 589.7857142857142,468.4 C589.7857142857143,481.9 602.8571428571429,481.9 602.8571428571429,468.4 C602.8571428571429,481.9 615.9285714285714,481.9 615.9285714285714,468.4 C615.9285714285714,481.9 629.0,481.9 629.0,468.4" fill="none" stroke-width="3.4"/>
<line x1="537.5" y1="492.4" x2="629" y2="492.4" stroke-width="3.4"/>
<line x1="537.5" y1="499.4" x2="629" y2="499.4" stroke-width="3.4"/>
<path d="M537.5,522 C537.5,508.5 550.5714285714286,508.5 550.5714285714286,522 C550.5714285714286,508.5 563.6428571428571,508.5 563.6428571428571,522 C563.6428571428571,508.5 576.7142857142857,508.5 576.7142857142857,522 C576.7142857142857,508.5 589.7857142857142,508.5 589.7857142857142,522 C589.7857142857143,508.5 602.8571428571429,508.5 602.8571428571429,522 C602.8571428571429,508.5 615.9285714285714,508.5 615.9285714285714,522 C615.9285714285714,508.5 629.0,508.5 629.0,522" fill="none" stroke-width="3.4"/>
<polyline points="537.5,522 513.5,523.4 513.5,671.2 541.7,671.2" fill="none" stroke-width="3.8"/>
<polyline points="629,522 647.5,522 647.5,671.2 622,671.2" fill="none" stroke-width="3.8"/>
<polyline points="582.6,514 582.6,562.9 491,562.9 491,772.7" fill="none" stroke-width="3.8"/>
<text transform="translate(727.8,207.6) rotate(90)" font-size="28" font-weight="bold" text-anchor="start" textLength="96" lengthAdjust="spacingAndGlyphs">POWER</text>
<text transform="translate(701,227) rotate(90)" font-size="26" font-weight="bold" text-anchor="start" textLength="48" lengthAdjust="spacingAndGlyphs">SW.</text>
<text transform="translate(705,307.7) rotate(90)" font-size="27" font-weight="bold" text-anchor="start" textLength="109" lengthAdjust="spacingAndGlyphs">2A.HOLD</text>
<text transform="translate(704,458.6) rotate(90)" font-size="27" font-weight="bold" text-anchor="start" textLength="69" lengthAdjust="spacingAndGlyphs">AI3I0</text>
<line x1="658" y1="373" x2="658" y2="388" stroke-width="3.5"/>
<text transform="translate(643,396.5) rotate(90)" font-size="30" font-weight="bold" text-anchor="start" textLength="31" lengthAdjust="spacingAndGlyphs">t°</text>
<line x1="622.5" y1="386" x2="622.5" y2="426" stroke-width="4"/>
<line x1="610.5" y1="397.5" x2="634.5" y2="414.5" stroke-width="4"/>
<line x1="610.5" y1="414.5" x2="634.5" y2="397.5" stroke-width="4"/>
<line x1="415.5" y1="354.0" x2="415.5" y2="385.0" stroke-width="4"/>
<line x1="403.7" y1="361.6" x2="427.3" y2="377.4" stroke-width="4"/>
<line x1="403.7" y1="377.4" x2="427.3" y2="361.6" stroke-width="4"/>
<text transform="translate(403.6,409) rotate(90)" font-size="29" font-weight="bold" text-anchor="start" textLength="107" lengthAdjust="spacingAndGlyphs">2R2  IW</text>
<text transform="translate(374,405) rotate(90)" font-size="29" font-weight="bold" text-anchor="start" textLength="113" lengthAdjust="spacingAndGlyphs">AT 25°C</text>
<polyline points="402.2,1546 402.2,612 582.6,612 582.6,633.2" fill="none" stroke-width="3.8"/>
<line x1="582.6" y1="633.2" x2="541.7" y2="671.2" stroke-width="3.4"/>
<polygon points="561.8329570487407,641.5745831250225 557.0217854833007,656.964600284464 572.7234719846582,653.2962163060496" fill="#000" stroke="none"/>
<line x1="550.8958708318471" y1="650.3711816201363" x2="563.1477001347544" y2="663.5580189487918" stroke-width="3.4"/>
<line x1="582.6" y1="633.2" x2="622" y2="671.2" stroke-width="3.4"/>
<polygon points="591.7079208935976,653.0988104381424 607.338453634953,657.0594222875183 602.8151718364962,641.5823449868212" fill="#000" stroke="none"/>
<line x1="601.0906249795725" y1="663.5374341038864" x2="613.5862822903335" y2="650.5814104711501" stroke-width="3.4"/>
<line x1="541.7" y1="671.2" x2="582.6" y2="710.7" stroke-width="3.4"/>
<polygon points="551.5573168705386,691.8416636803315 567.1851738003734,695.8128206629523 562.672335528715,680.3326949937641" fill="#000" stroke="none"/>
<line x1="560.9329758051491" y1="702.2866155491465" x2="573.4373717955976" y2="689.339025776758" stroke-width="3.4"/>
<line x1="622" y1="671.2" x2="582.6" y2="710.7" stroke-width="3.4"/>
<polygon points="601.5794507028487,680.3443030068564 597.3565299464103,695.9060169318983 612.9074894043305,691.6436631293471" fill="#000" stroke="none"/>
<line x1="590.9845081768268" y1="689.5501268629973" x2="603.7285517159938" y2="702.2619070007993" stroke-width="3.4"/>
<circle cx="582.6" cy="633.2" r="5.8" fill="#000" stroke="none"/>
<circle cx="541.7" cy="671.2" r="5.8" fill="#000" stroke="none"/>
<circle cx="622" cy="671.2" r="5.8" fill="#000" stroke="none"/>
<circle cx="582.6" cy="710.7" r="5.8" fill="#000" stroke="none"/>
<line x1="597" y1="608" x2="597" y2="627.5" stroke-width="3.5"/>
<line x1="591" y1="721" x2="612" y2="721" stroke-width="3.5"/>
<line x1="601.5" y1="709" x2="601.5" y2="733" stroke-width="3.5"/>
<text transform="translate(671.4,615) rotate(90)" font-size="29" font-weight="bold" text-anchor="start" textLength="125" lengthAdjust="spacingAndGlyphs">200V-8A</text>
<polygon points="434.6,680 474.6,656.0 474.6,704.0" fill="none" stroke-width="3.6" stroke-linejoin="miter"/>
<text transform="translate(451.6,672) rotate(90)" font-size="30" font-weight="bold" text-anchor="start">I</text>
<polyline points="474,681 491,681" fill="none" stroke-width="3.8"/>
<circle cx="491" cy="681" r="5.8" fill="#000" stroke="none"/>
<line x1="582.6" y1="710.7" x2="584" y2="1546" stroke-width="3.8"/>
<line x1="402.2" y1="772.7" x2="445" y2="772.7" stroke-width="3.8"/>
<line x1="457" y1="757.7" x2="457" y2="787.7" stroke-width="3.6"/>
<path d="M440,757.7 Q452,772.7 440,787.7" fill="none" stroke-width="3.6"/>
<line x1="457" y1="772.7" x2="534" y2="772.7" stroke-width="3.8"/>
<line x1="546" y1="757.7" x2="546" y2="787.7" stroke-width="3.6"/>
<path d="M529,757.7 Q541,772.7 529,787.7" fill="none" stroke-width="3.6"/>
<line x1="546" y1="772.7" x2="582.6" y2="772.7" stroke-width="3.8"/>
<circle cx="402.2" cy="772.7" r="5.8" fill="#000" stroke="none"/>
<circle cx="491" cy="772.7" r="5.8" fill="#000" stroke="none"/>
<circle cx="582.6" cy="772.7" r="5.8" fill="#000" stroke="none"/>
<circle cx="583" cy="803.8" r="5.8" fill="#000" stroke="none"/>
<polyline points="583,803.8 701,803.8 753,803.8" fill="none" stroke-width="3.8"/>
<circle cx="701" cy="803.8" r="5.8" fill="#000" stroke="none"/>
<polyline points="701,803.8 701,851.7" fill="none" stroke-width="3.8"/>
<polyline points="701,851.7 693.0,856.2 709.0,865.2 693.0,874.3 709.0,883.3 693.0,892.3 709.0,901.4 693.0,910.4 709.0,919.4 693.0,928.5 709.0,937.5 701,942" fill="none" stroke-width="3.8"/>
<polyline points="701,942 701,973 753,973 753,942" fill="none" stroke-width="3.8"/>
<polyline points="753,803.8 753,854.5" fill="none" stroke-width="3.8"/>
<polyline points="753,854.5 745.0,858.9 761.0,867.6 745.0,876.4 761.0,885.1 745.0,893.9 761.0,902.6 745.0,911.4 761.0,920.1 745.0,928.9 761.0,937.6 753,942" fill="none" stroke-width="3.8"/>
<circle cx="726.4" cy="975.7" r="5.8" fill="#000" stroke="none"/>
<circle cx="726.4" cy="1030.7" r="21" fill="none" stroke-width="3.6"/>
<line x1="726.4" y1="975.7" x2="726.4" y2="1159.2" stroke-width="3.8"/>
<polyline points="726.4,1159.2 705.3,1159.2" fill="none" stroke-width="3.8"/>
<polygon points="717,1022 726.4,1040 736,1022" fill="#000" stroke="none"/>
<line x1="716" y1="1040.6" x2="737" y2="1040.6" stroke-width="3.2"/>
<path d="M763,1023.7 L778,1042 L772,1045 L790,1062" fill="none" stroke-width="3.2"/>
<polygon points="798,1068 784,1061 792,1054" fill="#000" stroke="none"/>
<path d="M753,1049 L768,1067 L762,1070 L780,1086" fill="none" stroke-width="3.2"/>
<polygon points="788,1092 774,1085 782,1078" fill="#000" stroke="none"/>
<polygon points="665.8,1159.2 705.8,1135.2 705.8,1183.2" fill="none" stroke-width="3.6" stroke-linejoin="miter"/>
<text transform="translate(682.8,1151.2) rotate(90)" font-size="30" font-weight="bold" text-anchor="start">I</text>
<circle cx="402.2" cy="923.6" r="5.8" fill="#000" stroke="none"/>
<circle cx="584" cy="925" r="5.8" fill="#000" stroke="none"/>
<polyline points="402.2,923.6 352,923.6" fill="none" stroke-width="3.8"/>
<polyline points="362,913 352,923.6 362,934" fill="none" stroke-width="3.8"/>
<polyline points="584,925 634.8,925" fill="none" stroke-width="3.8"/>
<polyline points="624,914 634.8,925 624,936" fill="none" stroke-width="3.8"/>
<text transform="translate(643,871.4) rotate(90)" font-size="28" font-weight="bold" text-anchor="start" textLength="82" lengthAdjust="spacingAndGlyphs">+35V</text>
<text transform="translate(322,891) rotate(90)" font-size="28" font-weight="bold" text-anchor="start" textLength="66" lengthAdjust="spacingAndGlyphs">-35V</text>
<polyline points="402.2,970 394.2,974.4 410.2,983.1 394.2,991.9 410.2,1000.6 394.2,1009.4 410.2,1018.1 394.2,1026.9 410.2,1035.6 394.2,1044.4 410.2,1053.1 402.2,1057.5" fill="none" stroke-width="3.8"/>
<polyline points="402.2,1119.7 394.2,1124.2 410.2,1133.2 394.2,1142.3 410.2,1151.3 394.2,1160.3 410.2,1169.4 394.2,1178.4 410.2,1187.4 394.2,1196.5 410.2,1205.5 402.2,1210" fill="none" stroke-width="3.8"/>
<polyline points="584,973 576.0,977.2 592.0,985.7 576.0,994.1 592.0,1002.6 576.0,1011.0 592.0,1019.5 576.0,1027.9 592.0,1036.4 576.0,1044.8 592.0,1053.3 584,1057.5" fill="none" stroke-width="3.8"/>
<polyline points="585,1117 577.0,1121.6 593.0,1130.7 577.0,1139.9 593.0,1149.1 577.0,1158.2 593.0,1167.4 577.0,1176.5 593.0,1185.7 577.0,1194.9 593.0,1204.0 585,1208.6" fill="none" stroke-width="3.8"/>
<text transform="translate(771.5,877) rotate(90)" font-size="28" font-weight="bold" text-anchor="start" textLength="57" lengthAdjust="spacingAndGlyphs">5K6</text>
<text transform="translate(718,877) rotate(90)" font-size="28" font-weight="bold" text-anchor="start" textLength="55" lengthAdjust="spacingAndGlyphs">5K6</text>
<text transform="translate(678.5,998) rotate(90)" font-size="28" font-weight="bold" text-anchor="start" textLength="74" lengthAdjust="spacingAndGlyphs">PILOT</text>
<text transform="translate(650.3,994) rotate(90)" font-size="28" font-weight="bold" text-anchor="start" textLength="78" lengthAdjust="spacingAndGlyphs">LIGHT</text>
<text transform="translate(740.5,1083) rotate(90)" font-size="28" font-weight="bold" text-anchor="start" textLength="54" lengthAdjust="spacingAndGlyphs">LED</text>
<text transform="translate(602,987) rotate(90)" font-size="28" font-weight="bold" text-anchor="start" textLength="56" lengthAdjust="spacingAndGlyphs">680</text>
<text transform="translate(427.5,985.6) rotate(90)" font-size="28" font-weight="bold" text-anchor="start" textLength="56" lengthAdjust="spacingAndGlyphs">680</text>
<text transform="translate(429,1138) rotate(90)" font-size="28" font-weight="bold" text-anchor="start" textLength="55" lengthAdjust="spacingAndGlyphs">680</text>
<text transform="translate(603.8,1136.7) rotate(90)" font-size="28" font-weight="bold" text-anchor="start" textLength="56" lengthAdjust="spacingAndGlyphs">680</text>
<text transform="translate(455.7,805) rotate(90)" font-size="28" font-weight="bold" text-anchor="start" textLength="95" lengthAdjust="spacingAndGlyphs">2200u</text>
<text transform="translate(420.5,826.3) rotate(90)" font-size="28" font-weight="bold" text-anchor="start" textLength="61" lengthAdjust="spacingAndGlyphs">40V</text>
<line x1="447.3" y1="803.8" x2="447.3" y2="911" stroke-width="3.4"/>
<text transform="translate(544.5,805) rotate(90)" font-size="28" font-weight="bold" text-anchor="start" textLength="90" lengthAdjust="spacingAndGlyphs">2200u</text>
<text transform="translate(506.5,822) rotate(90)" font-size="28" font-weight="bold" text-anchor="start" textLength="57" lengthAdjust="spacingAndGlyphs">40V</text>
<line x1="534.7" y1="798" x2="534.7" y2="909.5" stroke-width="3.4"/>
<circle cx="402.2" cy="1263.5" r="5.8" fill="#000" stroke="none"/>
<circle cx="498" cy="1263.5" r="5.8" fill="#000" stroke="none"/>
<circle cx="585.5" cy="1263.5" r="5.8" fill="#000" stroke="none"/>
<line x1="402.2" y1="1263.5" x2="585.5" y2="1263.5" stroke-width="3.8"/>
<polygon points="446,1254 462.8,1263.5 446,1273" fill="#000" stroke="none"/>
<path d="M473,1236 L462.8,1242 L462.8,1285 L452,1292" fill="none" stroke-width="3.4"/>
<polygon points="553,1254 567,1263.5 553,1273" fill="#000" stroke="none"/>
<path d="M577,1236 L567,1242 L567,1285 L557,1292" fill="none" stroke-width="3.4"/>
<polyline points="402.2,1325.6 394.2,1330.1 410.2,1339.1 394.2,1348.1 410.2,1357.2 394.2,1366.2 410.2,1375.2 394.2,1384.2 410.2,1393.2 394.2,1402.3 410.2,1411.3 402.2,1415.8" fill="none" stroke-width="3.8"/>
<polyline points="586,1324 578.0,1328.6 594.0,1337.8 578.0,1347.0 594.0,1356.1 578.0,1365.3 594.0,1374.5 578.0,1383.7 594.0,1392.8 578.0,1402.0 594.0,1411.2 586,1415.8" fill="none" stroke-width="3.8"/>
<polyline points="498,1263.5 498,1654 474,1654" fill="none" stroke-width="3.8"/>
<polygon points="431.8,1654 473.8,1630.0 473.8,1678.0" fill="none" stroke-width="3.6" stroke-linejoin="miter"/>
<text transform="translate(448.8,1646) rotate(90)" font-size="30" font-weight="bold" text-anchor="start">2</text>
<line x1="402.2" y1="1473.6" x2="457" y2="1473.6" stroke-width="3.8"/>
<line x1="468.4" y1="1458.6" x2="468.4" y2="1488.6" stroke-width="3.6"/>
<path d="M451,1458.6 Q463,1473.6 451,1488.6" fill="none" stroke-width="3.6"/>
<line x1="468.4" y1="1473.6" x2="547" y2="1473.6" stroke-width="3.8"/>
<line x1="558.6" y1="1458.6" x2="558.6" y2="1488.6" stroke-width="3.6"/>
<path d="M541.4,1458.6 Q553.4,1473.6 541.4,1488.6" fill="none" stroke-width="3.6"/>
<line x1="558.6" y1="1473.6" x2="586" y2="1473.6" stroke-width="3.8"/>
<circle cx="402.2" cy="1473.6" r="5.8" fill="#000" stroke="none"/>
<circle cx="498" cy="1473.6" r="5.8" fill="#000" stroke="none"/>
<circle cx="586" cy="1473.6" r="5.8" fill="#000" stroke="none"/>
<polyline points="392,1534 402.2,1546 412,1534" fill="none" stroke-width="3.8"/>
<polyline points="574,1534 584,1546 594,1534" fill="none" stroke-width="3.8"/>
<text transform="translate(465.6,1304.4) rotate(90)" font-size="26" font-weight="bold" text-anchor="start" textLength="47" lengthAdjust="spacingAndGlyphs">I6V</text>
<text transform="translate(550,1289) rotate(90)" font-size="26" font-weight="bold" text-anchor="start" textLength="41" lengthAdjust="spacingAndGlyphs">I6V</text>
<text transform="translate(429,1351) rotate(90)" font-size="28" font-weight="bold" text-anchor="start" textLength="45" lengthAdjust="spacingAndGlyphs">I80</text>
<text transform="translate(605,1349.5) rotate(90)" font-size="28" font-weight="bold" text-anchor="start" textLength="47" lengthAdjust="spacingAndGlyphs">I80</text>
<text transform="translate(465.6,1503) rotate(90)" font-size="26" font-weight="bold" text-anchor="start" textLength="45" lengthAdjust="spacingAndGlyphs">I50</text>
<text transform="translate(429,1506) rotate(90)" font-size="26" font-weight="bold" text-anchor="start" textLength="45" lengthAdjust="spacingAndGlyphs">I6V</text>
<line x1="455.7" y1="1497" x2="455.7" y2="1548" stroke-width="3.4"/>
<text transform="translate(555.8,1497.5) rotate(90)" font-size="26" font-weight="bold" text-anchor="start" textLength="49" lengthAdjust="spacingAndGlyphs">I50</text>
<text transform="translate(516,1500) rotate(90)" font-size="26" font-weight="bold" text-anchor="start" textLength="45" lengthAdjust="spacingAndGlyphs">I6V</text>
<line x1="541.7" y1="1497" x2="541.7" y2="1548" stroke-width="3.4"/>
<text transform="translate(398,1569.5) rotate(90)" font-size="28" font-weight="bold" text-anchor="start" textLength="48" lengthAdjust="spacingAndGlyphs">–I5V</text>
<text transform="translate(577,1558) rotate(90)" font-size="28" font-weight="bold" text-anchor="start" textLength="47" lengthAdjust="spacingAndGlyphs">+I5</text>
<rect x="825.1" y="1082.4" width="208.60000000000002" height="382.5999999999999" fill="none" stroke-width="4.2"/>
<line x1="993.7" y1="1082.4" x2="993.7" y2="1465" stroke-width="4"/>
<line x1="948" y1="1140" x2="948" y2="1465" stroke-width="4"/>
<line x1="909" y1="1138" x2="909" y2="1465" stroke-width="4"/>
<line x1="866" y1="1136" x2="866" y2="1465" stroke-width="4"/>
<polygon points="947,1119.6 984.4,1095.6 984.4,1143.6" fill="none" stroke-width="3.6" stroke-linejoin="miter"/>
<text transform="translate(964,1111.6) rotate(90)" font-size="30" font-weight="bold" text-anchor="start">I</text>
<polygon points="907,1119.6 942.5,1095.6 942.5,1143.6" fill="none" stroke-width="3.6" stroke-linejoin="miter"/>
<text transform="translate(924,1111.6) rotate(90)" font-size="30" font-weight="bold" text-anchor="start">2</text>
<polygon points="863.3,1121.5 902.3,1096.5 902.3,1146.5" fill="none" stroke-width="3.6" stroke-linejoin="miter"/>
<text transform="translate(880.3,1113.5) rotate(90)" font-size="30" font-weight="bold" text-anchor="start">3</text>
<line x1="851" y1="1100" x2="851" y2="1142" stroke-width="3.8"/>
<line x1="851" y1="1100" x2="836" y2="1090" stroke-width="5"/>
<line x1="851" y1="1120" x2="836" y2="1110" stroke-width="5"/>
<line x1="851" y1="1141" x2="836" y2="1131" stroke-width="5"/>
<text transform="translate(1004,1194) rotate(90)" font-size="33" font-weight="bold" text-anchor="start" textLength="185" lengthAdjust="spacingAndGlyphs">GROUNDING</text>
<text transform="translate(960,1164) rotate(90)" font-size="28" font-weight="bold" text-anchor="start" textLength="267" lengthAdjust="spacingAndGlyphs">POWER SUPPLY GND.</text>
<text transform="translate(919,1157) rotate(90)" font-size="28" font-weight="bold" text-anchor="start" textLength="270" lengthAdjust="spacingAndGlyphs">PRE-AMP GND. M496</text>
<text transform="translate(880,1154) rotate(90)" font-size="28" font-weight="bold" text-anchor="start" textLength="262" lengthAdjust="spacingAndGlyphs">POWER AMP GND. I490</text>
<text transform="translate(836.3,1177) rotate(90)" font-size="28" font-weight="bold" text-anchor="start" textLength="233" lengthAdjust="spacingAndGlyphs">CHASSIS  GROUND</text>
<polygon points="722.6,1617.7 763.0,1593.7 763.0,1641.7" fill="none" stroke-width="3.6" stroke-linejoin="miter"/>
<text transform="translate(739.6,1609.7) rotate(90)" font-size="30" font-weight="bold" text-anchor="start">3</text>
<line x1="763" y1="1617.7" x2="873" y2="1617.7" stroke-width="3.8"/>
<line x1="873" y1="1604" x2="873" y2="1631" stroke-width="3.8"/>
<line x1="881" y1="1604" x2="881" y2="1631" stroke-width="3.8"/>
<line x1="881" y1="1617.7" x2="1025" y2="1617.7" stroke-width="3.8"/>
<line x1="1025" y1="1602.7" x2="1025" y2="1632.7" stroke-width="3.6"/>
<path d="M1044,1602.7 Q1032,1617.7 1044,1632.7" fill="none" stroke-width="3.6"/>
<line x1="1038" y1="1617.7" x2="1112" y2="1617.7" stroke-width="3.8"/>
<circle cx="815.8" cy="1617.7" r="5.8" fill="#000" stroke="none"/>
<circle cx="951" cy="1617.7" r="5.8" fill="#000" stroke="none"/>
<polyline points="815.8,1617.7 815.8,1717.3 824,1717.3" fill="none" stroke-width="3.8"/>
<polyline points="824,1717.3 828.6,1725.3 837.8,1709.3 847.0,1725.3 856.2,1709.3 865.4,1725.3 874.6,1709.3 883.8,1725.3 893.0,1709.3 902.2,1725.3 911.4,1709.3 916,1717.3" fill="none" stroke-width="3.8"/>
<polyline points="916,1717.3 951,1717.3" fill="none" stroke-width="3.8"/>
<circle cx="951" cy="1717.3" r="5.8" fill="#000" stroke="none"/>
<line x1="951" y1="1617.7" x2="952" y2="1783" stroke-width="3.8"/>
<text transform="translate(861.7,1638) rotate(90)" font-size="28" font-weight="bold" text-anchor="start" textLength="60" lengthAdjust="spacingAndGlyphs">270p</text>
<text transform="translate(861.7,1734) rotate(90)" font-size="28" font-weight="bold" text-anchor="start" textLength="51" lengthAdjust="spacingAndGlyphs">47K</text>
<text transform="translate(1023,1644) rotate(90)" font-size="28" font-weight="bold" text-anchor="start" textLength="56" lengthAdjust="spacingAndGlyphs">4u7</text>
<text transform="translate(1074,1770) rotate(90)" font-size="28" font-weight="bold" text-anchor="start" textLength="56" lengthAdjust="spacingAndGlyphs">MPS</text>
<text transform="translate(1044,1764) rotate(90)" font-size="28" font-weight="bold" text-anchor="start" textLength="68" lengthAdjust="spacingAndGlyphs">8599</text>
<text transform="translate(950,1858) rotate(90)" font-size="26" font-weight="bold" text-anchor="start" textLength="32" lengthAdjust="spacingAndGlyphs">2X</text>
<text transform="translate(925.6,1851) rotate(90)" font-size="26" font-weight="bold" text-anchor="start" textLength="52" lengthAdjust="spacingAndGlyphs">MPS</text>
<text transform="translate(899,1847) rotate(90)" font-size="26" font-weight="bold" text-anchor="start" textLength="58" lengthAdjust="spacingAndGlyphs">8599</text>
<circle cx="952" cy="1815" r="32" fill="none" stroke-width="3.2"/>
<line x1="976.0" y1="1796.0" x2="928.0" y2="1796.0" stroke-width="3.4"/>
<line x1="962.0" y1="1796.0" x2="979.0" y2="1831.0" stroke-width="3.2"/>
<line x1="942.0" y1="1796.0" x2="923.0" y2="1828.0" stroke-width="3.2"/>
<polygon points="966.2,1804.8 980.5,1818.1 967.9,1824.3" fill="#000" stroke="none"/>
<circle cx="952" cy="1937" r="32" fill="none" stroke-width="3.2"/>
<line x1="976.0" y1="1956.0" x2="928.0" y2="1956.0" stroke-width="3.4"/>
<line x1="962.0" y1="1956.0" x2="979.0" y2="1921.0" stroke-width="3.2"/>
<line x1="942.0" y1="1956.0" x2="923.0" y2="1924.0" stroke-width="3.2"/>
<polygon points="966.2,1947.2 980.5,1933.9 967.9,1927.7" fill="#000" stroke="none"/>
<polyline points="979,1831 1000.8,1839.5 1000.8,1912.8 979,1921" fill="none" stroke-width="3.8"/>
<circle cx="1000.8" cy="1873.3" r="5.8" fill="#000" stroke="none"/>
<polyline points="925,1828 925.6,1839.5 325.2,1839.5" fill="none" stroke-width="3.8"/>
<polyline points="923,1924 921.8,1915 325.2,1915" fill="none" stroke-width="3.8"/>
<polyline points="952,1956 952,1988.7 731.2,1988.7" fill="none" stroke-width="3.8"/>
<polyline points="658,1988.7 662.6,1996.7 671.7,1980.7 680.9,1996.7 690.0,1980.7 699.2,1996.7 708.3,1980.7 717.5,1996.7 726.6,1980.7 731.2,1988.7" fill="none" stroke-width="3.8"/>
<polyline points="658,1988.7 624,1988.7" fill="none" stroke-width="3.8"/>
<line x1="624" y1="1975" x2="624" y2="2002" stroke-width="3.8"/>
<line x1="612.8" y1="1975" x2="612.8" y2="2002" stroke-width="3.8"/>
<line x1="612.8" y1="1988.7" x2="582.7" y2="1988.7" stroke-width="3.8"/>
<polygon points="541.4,1988.7 582.6999999999999,1964.2 582.6999999999999,2013.2" fill="none" stroke-width="3.6" stroke-linejoin="miter"/>
<text transform="translate(558.4,1980.7) rotate(90)" font-size="30" font-weight="bold" text-anchor="start">3</text>
<circle cx="758.3" cy="1988.7" r="5.8" fill="#000" stroke="none"/>
<circle cx="1062.8" cy="1899.6" r="32" fill="none" stroke-width="3.2"/>
<line x1="1086.8" y1="1918.6" x2="1038.8" y2="1918.6" stroke-width="3.4"/>
<line x1="1072.8" y1="1918.6" x2="1089.8" y2="1883.6" stroke-width="3.2"/>
<line x1="1052.8" y1="1918.6" x2="1033.8" y2="1886.6" stroke-width="3.2"/>
<polygon points="1077.0,1909.8 1091.3,1896.5 1078.7,1890.3" fill="#000" stroke="none"/>
<polyline points="1089.8,1883.6 1106,1871.4" fill="none" stroke-width="3.8"/>
<polyline points="1106,1871.4 1110.5,1879.4 1119.4,1863.4 1128.3,1879.4 1137.2,1863.4 1146.2,1879.4 1155.1,1863.4 1164.0,1879.4 1172.9,1863.4 1177.4,1871.4" fill="none" stroke-width="3.8"/>
<polyline points="1177.4,1871.4 1196.2,1871.4 1196.2,2853" fill="none" stroke-width="3.8"/>
<polyline points="1033.8,1886.6 1030.8,1873.3 1000.8,1873.3" fill="none" stroke-width="3.8"/>
<line x1="1062.8" y1="1918.6" x2="1062.8" y2="2031" stroke-width="3.8"/>
<circle cx="1062.8" cy="1997.4" r="5.8" fill="#000" stroke="none"/>
<line x1="1062.8" y1="1997.4" x2="1196.2" y2="1997.4" stroke-width="3.8"/>
<polygon points="1108,1988 1092.9,1997.4 1108,2007" fill="#000" stroke="none"/>
<line x1="1092.9" y1="1986" x2="1092.9" y2="2009" stroke-width="3.4"/>
<polygon points="1152,1988 1137,1997.4 1152,2007" fill="#000" stroke="none"/>
<line x1="1137" y1="1986" x2="1137" y2="2009" stroke-width="3.4"/>
<circle cx="1196.2" cy="1997.4" r="5.8" fill="#000" stroke="none"/>
<circle cx="1062.8" cy="2016" r="5.8" fill="#000" stroke="none"/>
<polyline points="1062.8,2031 1054.8,2035.2 1070.8,2043.5 1054.8,2051.8 1070.8,2060.1 1054.8,2068.3 1070.8,2076.7 1054.8,2084.9 1070.8,2093.2 1054.8,2101.6 1070.8,2109.8 1062.8,2114" fill="none" stroke-width="3.8"/>
<line x1="1062.8" y1="2114" x2="1062.8" y2="2141" stroke-width="3.8"/>
<circle cx="1062.8" cy="2117" r="5.8" fill="#000" stroke="none"/>
<polyline points="884.2,1915 884.2,2016 946,2016" fill="none" stroke-width="3.8"/>
<polyline points="946,2016 950.4,2024.0 959.1,2008.0 967.8,2024.0 976.5,2008.0 985.3,2024.0 994.0,2008.0 1002.7,2024.0 1011.4,2008.0 1015.8,2016" fill="none" stroke-width="3.8"/>
<line x1="1015.8" y1="2016" x2="1062.8" y2="2016" stroke-width="3.8"/>
<circle cx="884.2" cy="1915" r="5.8" fill="#000" stroke="none"/>
<text transform="translate(972.6,2035) rotate(90)" font-size="28" font-weight="bold" text-anchor="start" textLength="51" lengthAdjust="spacingAndGlyphs">33K</text>
<text transform="translate(1081.6,2054) rotate(90)" font-size="28" font-weight="bold" text-anchor="start" textLength="28" lengthAdjust="spacingAndGlyphs">IK</text>
<text transform="translate(1133,1896) rotate(90)" font-size="28" font-weight="bold" text-anchor="start" textLength="53" lengthAdjust="spacingAndGlyphs">270</text>
<text transform="translate(1134.6,2018) rotate(90)" font-size="28" font-weight="bold" text-anchor="start" textLength="138" lengthAdjust="spacingAndGlyphs">2X IN4003</text>
<circle cx="1063" cy="2160" r="32" fill="none" stroke-width="3.2"/>
<line x1="1087.0" y1="2141.0" x2="1039.0" y2="2141.0" stroke-width="3.4"/>
<line x1="1073.0" y1="2141.0" x2="1090.0" y2="2176.0" stroke-width="3.2"/>
<line x1="1053.0" y1="2141.0" x2="1034.0" y2="2173.0" stroke-width="3.2"/>
<polygon points="1077.2,2149.8 1091.5,2163.1 1078.9,2169.3" fill="#000" stroke="none"/>
<polyline points="1090,2176 1098.5,2186.5" fill="none" stroke-width="3.8"/>
<polyline points="1098.5,2186.5 1103.4,2194.5 1113.3,2178.5 1123.2,2194.5 1133.0,2178.5 1142.9,2194.5 1152.7,2178.5 1162.6,2194.5 1172.5,2178.5 1177.4,2186.5" fill="none" stroke-width="3.8"/>
<line x1="1177.4" y1="2186.5" x2="1196.2" y2="2186.5" stroke-width="3.8"/>
<circle cx="1196.2" cy="2186.5" r="5.8" fill="#000" stroke="none"/>
<polyline points="1034,2173 1030.8,2189" fill="none" stroke-width="3.8"/>
<polyline points="1062.8,2117 995,2117 995,2137.6" fill="none" stroke-width="3.8"/>
<line x1="980" y1="2137.6" x2="1010" y2="2137.6" stroke-width="3.8"/>
<line x1="980" y1="2148" x2="1010" y2="2148" stroke-width="3.8"/>
<line x1="995" y1="2148" x2="995" y2="2190" stroke-width="3.8"/>
<circle cx="995" cy="2190" r="5.8" fill="#000" stroke="none"/>
<circle cx="1030.8" cy="2189" r="5.8" fill="#000" stroke="none"/>
<polyline points="1030.8,2189 848.5,2193" fill="none" stroke-width="3.8"/>
<polygon points="965,2181 948,2191 965,2200" fill="#000" stroke="none"/>
<line x1="948" y1="2179" x2="948" y2="2202" stroke-width="3.4"/>
<polygon points="897,2183 880.5,2192.5 897,2202" fill="#000" stroke="none"/>
<line x1="880.5" y1="2181" x2="880.5" y2="2204" stroke-width="3.4"/>
<polyline points="775,2195 779.8,2202.9 788.6,2186.6 798.2,2202.4 806.9,2186.1 816.6,2201.9 825.3,2185.6 834.9,2201.4 843.7,2185.1 848.5,2193" fill="none" stroke-width="3.8"/>
<polyline points="775,2195 579,2196.5" fill="none" stroke-width="3.8"/>
<line x1="1030.8" y1="2189" x2="1030.8" y2="2474" stroke-width="3.8"/>
<circle cx="1030.8" cy="2259.8" r="5.8" fill="#000" stroke="none"/>
<line x1="1030.8" y1="2259.8" x2="935" y2="2261.7" stroke-width="3.8"/>
<polygon points="995,2250 978,2259.8 995,2269" fill="#000" stroke="none"/>
<line x1="978" y1="2248" x2="978" y2="2271" stroke-width="3.4"/>
<circle cx="903" cy="2286" r="32" fill="none" stroke-width="3.2"/>
<line x1="879.0" y1="2305.0" x2="927.0" y2="2305.0" stroke-width="3.4"/>
<line x1="893.0" y1="2305.0" x2="876.0" y2="2270.0" stroke-width="3.2"/>
<line x1="913.0" y1="2305.0" x2="932.0" y2="2273.0" stroke-width="3.2"/>
<polygon points="877.4,2272.8 879.1,2292.3 891.6,2286.2" fill="#000" stroke="none"/>
<polyline points="932,2273 935,2261.7" fill="none" stroke-width="3.8"/>
<polyline points="876,2270 871,2263.5 669,2263.5" fill="none" stroke-width="3.8"/>
<circle cx="758.3" cy="2263.5" r="5.8" fill="#000" stroke="none"/>
<line x1="903" y1="2305" x2="903" y2="2470" stroke-width="3.8"/>
<polyline points="903,2470 895.0,2474.5 911.0,2483.6 895.0,2492.6 911.0,2501.7 895.0,2510.7 911.0,2519.8 895.0,2528.8 911.0,2537.9 895.0,2546.9 911.0,2556.0 903,2560.5" fill="none" stroke-width="3.8"/>
<line x1="903" y1="2560.5" x2="903" y2="2817.3" stroke-width="3.8"/>
<circle cx="903" cy="2368.8" r="5.8" fill="#000" stroke="none"/>
<circle cx="903" cy="2633.8" r="5.8" fill="#000" stroke="none"/>
<circle cx="903" cy="2735.7" r="5.8" fill="#000" stroke="none"/>
<polyline points="903,2817.3 1198,2817.3" fill="none" stroke-width="3.8"/>
<polygon points="1050,2808 1066.5,2817.3 1050,2827" fill="#000" stroke="none"/>
<line x1="1066.5" y1="2805" x2="1066.5" y2="2829" stroke-width="3.4"/>
<circle cx="1198" cy="2817.3" r="5.8" fill="#000" stroke="none"/>
<polyline points="1188,2842 1197,2853 1206,2842" fill="none" stroke-width="3.8"/>
<text transform="translate(1188.7,2864) rotate(90)" font-size="28" font-weight="bold" text-anchor="start" textLength="79" lengthAdjust="spacingAndGlyphs">+35V</text>
<text transform="translate(1046,2840) rotate(90)" font-size="28" font-weight="bold" text-anchor="start" textLength="105" lengthAdjust="spacingAndGlyphs">IN4003</text>
<line x1="637.2" y1="2369" x2="643" y2="2369" stroke-width="3.8"/>
<polyline points="643,2369 647.5,2377.0 656.6,2361.0 665.7,2377.0 674.7,2361.0 683.8,2377.0 692.9,2361.0 697.4,2369" fill="none" stroke-width="3.8"/>
<line x1="697.4" y1="2369" x2="724.4" y2="2369" stroke-width="3.8"/>
<line x1="724.4" y1="2354.0" x2="724.4" y2="2384.0" stroke-width="3.6"/>
<path d="M741.7,2354.0 Q729.7,2369 741.7,2384.0" fill="none" stroke-width="3.6"/>
<line x1="735.7" y1="2369" x2="799.6" y2="2369" stroke-width="3.8"/>
<line x1="799.6" y1="2354.0" x2="799.6" y2="2384.0" stroke-width="3.6"/>
<path d="M817,2354.0 Q805,2369 817,2384.0" fill="none" stroke-width="3.6"/>
<line x1="811" y1="2369" x2="829.7" y2="2369" stroke-width="3.8"/>
<polyline points="829.7,2369 833.8,2377.0 842.0,2361.0 850.3,2377.0 858.5,2361.0 866.7,2377.0 874.9,2361.0 883.2,2377.0 891.4,2361.0 895.5,2369" fill="none" stroke-width="3.8"/>
<line x1="895.5" y1="2369" x2="903" y2="2369" stroke-width="3.8"/>
<circle cx="637.2" cy="2369.5" r="5.8" fill="#000" stroke="none"/>
<circle cx="703" cy="2369" r="5.8" fill="#000" stroke="none"/>
<circle cx="758.3" cy="2369" r="5.8" fill="#000" stroke="none"/>
<circle cx="826" cy="2369" r="5.8" fill="#000" stroke="none"/>
<line x1="826" y1="2369" x2="826" y2="2504" stroke-width="3.8"/>
<polygon points="817,2504 826,2521 835,2504" fill="#000" stroke="none"/>
<line x1="815" y1="2521" x2="837" y2="2521" stroke-width="3.4"/>
<line x1="826" y1="2521" x2="826" y2="2562.4" stroke-width="3.8"/>
<circle cx="826" cy="2558.6" r="5.8" fill="#000" stroke="none"/>
<polyline points="826,2562.4 818.0,2567.3 834.0,2577.2 818.0,2587.1 834.0,2597.0 818.0,2606.8 834.0,2616.7 818.0,2626.6 834.0,2636.5 826,2641.4" fill="none" stroke-width="3.8"/>
<polyline points="826,2641.4 826,2667.3 703,2667.3" fill="none" stroke-width="3.8"/>
<circle cx="826" cy="2438.3" r="5.8" fill="#000" stroke="none"/>
<line x1="327" y1="2439.5" x2="383.5" y2="2439.5" stroke-width="3.8"/>
<polyline points="383.5,2439.5 388.0,2447.5 397.0,2431.5 406.1,2447.5 415.1,2431.5 424.1,2447.5 433.1,2431.5 442.1,2447.5 451.1,2431.5 460.2,2447.5 469.2,2431.5 473.7,2439.5" fill="none" stroke-width="3.8"/>
<line x1="473.7" y1="2439.5" x2="1083.5" y2="2439.5" stroke-width="3.8"/>
<polyline points="1083.5,2439.5 1088.0,2447.5 1097.0,2431.5 1106.0,2447.5 1115.1,2431.5 1124.1,2447.5 1133.1,2431.5 1142.1,2447.5 1151.2,2431.5 1160.2,2447.5 1169.2,2431.5 1173.7,2439.5" fill="none" stroke-width="3.8"/>
<line x1="1173.7" y1="2439.5" x2="1196.2" y2="2439.5" stroke-width="3.8"/>
<circle cx="327" cy="2439.5" r="5.8" fill="#000" stroke="none"/>
<circle cx="703" cy="2439.5" r="5.8" fill="#000" stroke="none"/>
<circle cx="1196.2" cy="2439.5" r="5.8" fill="#000" stroke="none"/>
<line x1="703" y1="2369" x2="703" y2="2509.4" stroke-width="3.8"/>
<polygon points="694,2527 703,2509.4 712,2527" fill="#000" stroke="none"/>
<line x1="692" y1="2509.4" x2="714" y2="2509.4" stroke-width="3.4"/>
<line x1="703" y1="2527" x2="703" y2="2565.8" stroke-width="3.8"/>
<polyline points="703,2565.8 695.0,2570.7 711.0,2580.6 695.0,2590.5 711.0,2600.3 695.0,2610.2 711.0,2620.0 695.0,2629.9 711.0,2639.8 703,2644.7" fill="none" stroke-width="3.8"/>
<line x1="703" y1="2644.7" x2="703" y2="2667.3" stroke-width="3.8"/>
<circle cx="703" cy="2667.3" r="5.8" fill="#000" stroke="none"/>
<line x1="703" y1="2667.3" x2="689.8" y2="2667.3" stroke-width="3.8"/>
<polygon points="650.4,2667.3 689.8,2642.8 689.8,2691.8" fill="none" stroke-width="3.6" stroke-linejoin="miter"/>
<text transform="translate(667.4,2659.3) rotate(90)" font-size="30" font-weight="bold" text-anchor="start">3</text>
<circle cx="1032.7" cy="2492.9" r="32" fill="none" stroke-width="3.2"/>
<line x1="1008.7" y1="2473.9" x2="1056.7" y2="2473.9" stroke-width="3.4"/>
<line x1="1022.7" y1="2473.9" x2="1005.7" y2="2508.9" stroke-width="3.2"/>
<line x1="1042.7" y1="2473.9" x2="1061.7" y2="2505.9" stroke-width="3.2"/>
<polygon points="1007.1,2506.1 1008.8,2486.6 1021.3,2492.7" fill="#000" stroke="none"/>
<polyline points="1005.7,2509 1000.8,2513.5 997,2520 997,2536" fill="none" stroke-width="3.8"/>
<polyline points="997,2536 989.0,2540.2 1005.0,2548.7 989.0,2557.2 1005.0,2565.6 989.0,2574.1 1005.0,2582.6 989.0,2591.1 1005.0,2599.5 989.0,2608.0 1005.0,2616.5 997,2620.7" fill="none" stroke-width="3.8"/>
<line x1="997" y1="2620.7" x2="997" y2="2687.6" stroke-width="3.8"/>
<circle cx="997" cy="2633.8" r="5.8" fill="#000" stroke="none"/>
<line x1="903" y1="2633.8" x2="910.5" y2="2633.8" stroke-width="3.8"/>
<polyline points="910.5,2633.8 914.7,2641.8 923.2,2625.8 931.6,2641.8 940.0,2625.8 948.5,2641.8 956.9,2625.8 965.3,2641.8 973.8,2625.8 978,2633.8" fill="none" stroke-width="3.8"/>
<line x1="978" y1="2633.8" x2="997" y2="2633.8" stroke-width="3.8"/>
<polyline points="1061.7,2506 1061,2517.3 1196.2,2517.3" fill="none" stroke-width="3.8"/>
<circle cx="1196.2" cy="2517.3" r="5.8" fill="#000" stroke="none"/>
<circle cx="1196.2" cy="2620.7" r="5.8" fill="#000" stroke="none"/>
<polyline points="1196.2,2620.7 1147.4,2620.7" fill="none" stroke-width="3.8"/>
<line x1="1147.4" y1="2607" x2="1147.4" y2="2634" stroke-width="3.8"/>
<line x1="1138" y1="2607" x2="1138" y2="2634" stroke-width="3.8"/>
<line x1="1138" y1="2620.7" x2="1113.5" y2="2620.7" stroke-width="3.8"/>
<polygon points="1072,2620.7 1113.5,2596.2 1113.5,2645.2" fill="none" stroke-width="3.6" stroke-linejoin="miter"/>
<text transform="translate(1089,2612.7) rotate(90)" font-size="30" font-weight="bold" text-anchor="start">3</text>
<circle cx="997" cy="2706.4" r="32" fill="none" stroke-width="3.2"/>
<line x1="973.0" y1="2687.4" x2="1021.0" y2="2687.4" stroke-width="3.4"/>
<line x1="987.0" y1="2687.4" x2="970.0" y2="2722.4" stroke-width="3.2"/>
<line x1="1007.0" y1="2687.4" x2="1026.0" y2="2719.4" stroke-width="3.2"/>
<polygon points="971.4,2719.6 973.1,2700.1 985.6,2706.2" fill="#000" stroke="none"/>
<polyline points="970,2722.4 965,2731 955,2735.7 903,2735.7" fill="none" stroke-width="3.8"/>
<polyline points="1026,2719.4 1027,2729 1035,2732.7 1198,2732.7" fill="none" stroke-width="3.8"/>
<circle cx="1198" cy="2732.7" r="5.8" fill="#000" stroke="none"/>
<line x1="903" y1="2735.7" x2="873" y2="2735.7" stroke-width="3.8"/>
<polyline points="786.5,2735.7 790.8,2743.7 799.5,2727.7 808.1,2743.7 816.8,2727.7 825.4,2743.7 834.1,2727.7 842.7,2743.7 851.4,2727.7 860.0,2743.7 868.7,2727.7 873,2735.7" fill="none" stroke-width="3.8"/>
<line x1="742.5" y1="2735.7" x2="786.5" y2="2735.7" stroke-width="3.8"/>
<polyline points="652.3,2737 656.8,2745.0 665.8,2729.0 674.8,2745.0 683.9,2729.0 692.9,2745.0 701.9,2729.0 710.9,2745.0 720.0,2729.0 729.0,2745.0 738.0,2729.0 742.5,2737" fill="none" stroke-width="3.8"/>
<polyline points="652.3,2737 594,2738.7 539.5,2738.7" fill="none" stroke-width="3.8"/>
<circle cx="758.3" cy="2735.7" r="5.8" fill="#000" stroke="none"/>
<circle cx="637.2" cy="2738.2" r="5.8" fill="#000" stroke="none"/>
<circle cx="594" cy="2738.7" r="5.8" fill="#000" stroke="none"/>
<text x="955.6" y="2779.7" font-size="28" font-weight="bold" textLength="115" lengthAdjust="spacingAndGlyphs">MJI50I5</text>
<text x="449" y="2776.3" font-size="28" font-weight="bold" textLength="113" lengthAdjust="spacingAndGlyphs">MJI50I5</text>
<line x1="758.3" y1="1988.7" x2="758.3" y2="2051.5" stroke-width="3.8"/>
<polyline points="758.3,2051.5 750.3,2055.9 766.3,2064.8 750.3,2073.6 766.3,2082.5 750.3,2091.3 766.3,2100.2 750.3,2109.0 766.3,2117.9 750.3,2126.7 766.3,2135.6 758.3,2140" fill="none" stroke-width="3.8"/>
<line x1="758.3" y1="2140" x2="758.3" y2="2843" stroke-width="3.8"/>
<circle cx="758.3" cy="2830" r="5.8" fill="#000" stroke="none"/>
<text transform="translate(972.6,2282) rotate(90)" font-size="28" font-weight="bold" text-anchor="start" textLength="96" lengthAdjust="spacingAndGlyphs">IN4I48</text>
<text transform="translate(920,2322) rotate(90)" font-size="28" font-weight="bold" text-anchor="start" textLength="100" lengthAdjust="spacingAndGlyphs">MPSAI8</text>
<text transform="translate(1079.7,2200) rotate(90)" font-size="29" font-weight="bold" text-anchor="start" textLength="111" lengthAdjust="spacingAndGlyphs">2N6556</text>
<text transform="translate(1136,2205) rotate(90)" font-size="28" font-weight="bold" text-anchor="start" textLength="34" lengthAdjust="spacingAndGlyphs">47</text>
<text transform="translate(805,2209) rotate(90)" font-size="28" font-weight="bold" text-anchor="start" textLength="27" lengthAdjust="spacingAndGlyphs">I8</text>
<text transform="translate(950,2115) rotate(90)" font-size="28" font-weight="bold" text-anchor="start" textLength="45" lengthAdjust="spacingAndGlyphs">47p</text>
<text transform="translate(914,2124) rotate(90)" font-size="28" font-weight="bold" text-anchor="start" textLength="32" lengthAdjust="spacingAndGlyphs">2X</text>
<text transform="translate(886,2100) rotate(90)" font-size="28" font-weight="bold" text-anchor="start" textLength="71" lengthAdjust="spacingAndGlyphs">IN4I48</text>
<text transform="translate(856,2376) rotate(90)" font-size="28" font-weight="bold" text-anchor="start" textLength="47" lengthAdjust="spacingAndGlyphs">I00</text>
<text transform="translate(718.8,2397) rotate(90)" font-size="28" font-weight="bold" text-anchor="start" textLength="52" lengthAdjust="spacingAndGlyphs">25u</text>
<text transform="translate(784.6,2395) rotate(90)" font-size="28" font-weight="bold" text-anchor="start" textLength="50" lengthAdjust="spacingAndGlyphs">25u</text>
<text transform="translate(1134,2451.5) rotate(90)" font-size="28" font-weight="bold" text-anchor="start" textLength="49" lengthAdjust="spacingAndGlyphs">39K</text>
<text transform="translate(920,2487) rotate(90)" font-size="28" font-weight="bold" text-anchor="start" textLength="55" lengthAdjust="spacingAndGlyphs">330</text>
<text transform="translate(844.7,2465) rotate(90)" font-size="28" font-weight="bold" text-anchor="start" textLength="88" lengthAdjust="spacingAndGlyphs">IN4I48</text>
<text transform="translate(844.7,2583) rotate(90)" font-size="28" font-weight="bold" text-anchor="start" textLength="47" lengthAdjust="spacingAndGlyphs">IK8</text>
<text transform="translate(1040,2534) rotate(90)" font-size="29" font-weight="bold" text-anchor="start" textLength="107" lengthAdjust="spacingAndGlyphs">2N6553</text>
<text transform="translate(1010,2551) rotate(90)" font-size="28" font-weight="bold" text-anchor="start" textLength="55" lengthAdjust="spacingAndGlyphs">4R7</text>
<text transform="translate(938.7,2649) rotate(90)" font-size="28" font-weight="bold" text-anchor="start" textLength="45" lengthAdjust="spacingAndGlyphs">I00</text>
<text transform="translate(1136,2641) rotate(90)" font-size="28" font-weight="bold" text-anchor="start" textLength="61" lengthAdjust="spacingAndGlyphs">I00n</text>
<text transform="translate(837,2757) rotate(90)" font-size="28" font-weight="bold" text-anchor="start" textLength="68" lengthAdjust="spacingAndGlyphs">OR27</text>
<text transform="translate(799.6,2759) rotate(90)" font-size="28" font-weight="bold" text-anchor="start" textLength="54" lengthAdjust="spacingAndGlyphs">IOW</text>
<text transform="translate(716,2756) rotate(90)" font-size="28" font-weight="bold" text-anchor="start" textLength="62" lengthAdjust="spacingAndGlyphs">OR27</text>
<text transform="translate(686,2759) rotate(90)" font-size="28" font-weight="bold" text-anchor="start" textLength="51" lengthAdjust="spacingAndGlyphs">IOW</text>
<polyline points="362.8,1839.5 367.3,1847.5 376.3,1831.5 385.4,1847.5 394.4,1831.5 403.4,1847.5 412.4,1831.5 421.4,1847.5 430.4,1831.5 439.5,1847.5 448.5,1831.5 453,1839.5" fill="none" stroke-width="3.8"/>
<line x1="325.2" y1="1839.5" x2="325.2" y2="2877" stroke-width="3.8"/>
<circle cx="325.2" cy="1915" r="5.8" fill="#000" stroke="none"/>
<circle cx="325.2" cy="2198" r="5.8" fill="#000" stroke="none"/>
<circle cx="325.2" cy="2587.2" r="5.8" fill="#000" stroke="none"/>
<circle cx="325.2" cy="2742.5" r="5.8" fill="#000" stroke="none"/>
<circle cx="327.8" cy="2815.7" r="5.8" fill="#000" stroke="none"/>
<circle cx="494.4" cy="1839.5" r="5.8" fill="#000" stroke="none"/>
<line x1="494.4" y1="1839.5" x2="494.4" y2="2151" stroke-width="3.8"/>
<circle cx="494.4" cy="2066.5" r="5.8" fill="#000" stroke="none"/>
<polyline points="494.4,2066.5 528,2066.5" fill="none" stroke-width="3.8"/>
<line x1="528" y1="2052" x2="528" y2="2081" stroke-width="3.8"/>
<line x1="537.6" y1="2052" x2="537.6" y2="2081" stroke-width="3.8"/>
<polyline points="537.6,2066.5 579,2066.5 579,2196.2" fill="none" stroke-width="3.8"/>
<circle cx="496.2" cy="2170" r="32" fill="none" stroke-width="3.2"/>
<line x1="472.2" y1="2151.0" x2="520.2" y2="2151.0" stroke-width="3.4"/>
<line x1="486.2" y1="2151.0" x2="469.2" y2="2186.0" stroke-width="3.2"/>
<line x1="506.2" y1="2151.0" x2="525.2" y2="2183.0" stroke-width="3.2"/>
<polygon points="470.6,2183.2 472.3,2163.7 484.8,2169.8" fill="#000" stroke="none"/>
<polyline points="469,2186 466,2196 460,2198 441.7,2198" fill="none" stroke-width="3.8"/>
<polyline points="351.5,2198 356.0,2206.0 365.0,2190.0 374.1,2206.0 383.1,2190.0 392.1,2206.0 401.1,2190.0 410.1,2206.0 419.1,2190.0 428.2,2206.0 437.2,2190.0 441.7,2198" fill="none" stroke-width="3.8"/>
<line x1="325.2" y1="2198" x2="351.5" y2="2198" stroke-width="3.8"/>
<polyline points="525,2183 530,2196 579,2196" fill="none" stroke-width="3.8"/>
<circle cx="543.2" cy="2196" r="5.8" fill="#000" stroke="none"/>
<circle cx="579" cy="2196.2" r="5.8" fill="#000" stroke="none"/>
<line x1="543.2" y1="2196" x2="543.2" y2="2535" stroke-width="3.8"/>
<circle cx="543.2" cy="2264" r="5.8" fill="#000" stroke="none"/>
<line x1="543.2" y1="2264" x2="607" y2="2264" stroke-width="3.8"/>
<polygon points="578,2255 562,2264 578,2273" fill="#000" stroke="none"/>
<line x1="562" y1="2252" x2="562" y2="2276" stroke-width="3.4"/>
<circle cx="637.2" cy="2287.6" r="32" fill="none" stroke-width="3.2"/>
<line x1="661.2" y1="2306.6" x2="613.2" y2="2306.6" stroke-width="3.4"/>
<line x1="647.2" y1="2306.6" x2="664.2" y2="2271.6" stroke-width="3.2"/>
<line x1="627.2" y1="2306.6" x2="608.2" y2="2274.6" stroke-width="3.2"/>
<polygon points="651.5,2297.8 665.7,2284.5 653.1,2278.3" fill="#000" stroke="none"/>
<polyline points="608,2274.6 607,2264" fill="none" stroke-width="3.8"/>
<polyline points="664,2271.6 669,2263.5" fill="none" stroke-width="3.8"/>
<line x1="637.2" y1="2306.6" x2="637.2" y2="2471.8" stroke-width="3.8"/>
<polyline points="637.2,2471.8 629.2,2476.3 645.2,2485.3 629.2,2494.4 645.2,2503.4 629.2,2512.4 645.2,2521.4 629.2,2530.4 645.2,2539.4 629.2,2548.5 645.2,2557.5 637.2,2562" fill="none" stroke-width="3.8"/>
<line x1="637.2" y1="2562" x2="637.2" y2="2815.7" stroke-width="3.8"/>
<circle cx="545" cy="2554.5" r="32" fill="none" stroke-width="3.2"/>
<line x1="569.0" y1="2535.5" x2="521.0" y2="2535.5" stroke-width="3.4"/>
<line x1="555.0" y1="2535.5" x2="572.0" y2="2570.5" stroke-width="3.2"/>
<line x1="535.0" y1="2535.5" x2="516.0" y2="2567.5" stroke-width="3.2"/>
<polygon points="559.2,2544.2 573.5,2557.6 560.9,2563.8" fill="#000" stroke="none"/>
<polyline points="572,2570.5 577,2580.8 592,2584.6 594,2590 594,2618.4" fill="none" stroke-width="3.8"/>
<polyline points="594,2618.4 586.0,2622.9 602.0,2631.9 586.0,2640.9 602.0,2650.0 586.0,2659.0 602.0,2668.0 586.0,2677.0 602.0,2686.1 586.0,2695.1 602.0,2704.1 594,2708.6" fill="none" stroke-width="3.8"/>
<line x1="594" y1="2708.6" x2="594" y2="2738.7" stroke-width="3.8"/>
<polyline points="516,2567.5 515,2580.8 505,2587.2" fill="none" stroke-width="3.8"/>
<circle cx="505" cy="2587.2" r="5.8" fill="#000" stroke="none"/>
<line x1="325.2" y1="2587.2" x2="383.5" y2="2587.2" stroke-width="3.8"/>
<polyline points="383.5,2587.2 387.9,2595.2 396.7,2579.2 405.6,2595.2 414.4,2579.2 423.2,2595.2 432.1,2579.2 440.9,2595.2 449.7,2579.2 458.6,2595.2 467.4,2579.2 471.8,2587.2" fill="none" stroke-width="3.8"/>
<line x1="471.8" y1="2587.2" x2="505" y2="2587.2" stroke-width="3.8"/>
<line x1="505" y1="2587.2" x2="505" y2="2695" stroke-width="3.8"/>
<circle cx="507.5" cy="2714.3" r="32" fill="none" stroke-width="3.2"/>
<line x1="483.5" y1="2695.3" x2="531.5" y2="2695.3" stroke-width="3.4"/>
<line x1="497.5" y1="2695.3" x2="480.5" y2="2730.3" stroke-width="3.2"/>
<line x1="517.5" y1="2695.3" x2="536.5" y2="2727.3" stroke-width="3.2"/>
<polygon points="481.9,2727.5 483.6,2708.0 496.1,2714.1" fill="#000" stroke="none"/>
<polyline points="480.5,2730.3 475.6,2738.7 470,2742.5 325.2,2742.5" fill="none" stroke-width="3.8"/>
<polyline points="536.5,2727.3 539.5,2738.7" fill="none" stroke-width="3.8"/>
<polyline points="327.8,2815.7 638,2815.7" fill="none" stroke-width="3.8"/>
<polygon points="480,2806 497.5,2815.7 480,2825" fill="#000" stroke="none"/>
<line x1="497.5" y1="2804" x2="497.5" y2="2827" stroke-width="3.4"/>
<line x1="327.8" y1="2815.7" x2="327.8" y2="2877" stroke-width="5"/>
<polyline points="317,2866 327.8,2878 338,2866" fill="none" stroke-width="4.5"/>
<text transform="translate(320,2885) rotate(90)" font-size="28" font-weight="bold" text-anchor="start" textLength="74" lengthAdjust="spacingAndGlyphs">-35V</text>
<text transform="translate(476,2836) rotate(90)" font-size="28" font-weight="bold" text-anchor="start" textLength="100" lengthAdjust="spacingAndGlyphs">IN4003</text>
<text transform="translate(394.7,1856) rotate(90)" font-size="28" font-weight="bold" text-anchor="start" textLength="49" lengthAdjust="spacingAndGlyphs">820</text>
<text transform="translate(609,2019.5) rotate(90)" font-size="28" font-weight="bold" text-anchor="start" textLength="52" lengthAdjust="spacingAndGlyphs">25u</text>
<text transform="translate(684,2008) rotate(90)" font-size="28" font-weight="bold" text-anchor="start" textLength="47" lengthAdjust="spacingAndGlyphs">IK5</text>
<text transform="translate(774.4,2070) rotate(90)" font-size="28" font-weight="bold" text-anchor="start" textLength="49" lengthAdjust="spacingAndGlyphs">47K</text>
<text transform="translate(524.4,2087) rotate(90)" font-size="28" font-weight="bold" text-anchor="start" textLength="49" lengthAdjust="spacingAndGlyphs">47p</text>
<text transform="translate(408,2221) rotate(90)" font-size="28" font-weight="bold" text-anchor="start" textLength="30" lengthAdjust="spacingAndGlyphs">33</text>
<text transform="translate(488.7,2223) rotate(90)" font-size="29" font-weight="bold" text-anchor="start" textLength="105" lengthAdjust="spacingAndGlyphs">2N6553</text>
<text transform="translate(556.4,2288) rotate(90)" font-size="28" font-weight="bold" text-anchor="start" textLength="94" lengthAdjust="spacingAndGlyphs">IN4I48</text>
<text transform="translate(590,2310) rotate(90)" font-size="28" font-weight="bold" text-anchor="start" textLength="120" lengthAdjust="spacingAndGlyphs">MPS8599</text>
<text transform="translate(661.7,2380) rotate(90)" font-size="28" font-weight="bold" text-anchor="start" textLength="47" lengthAdjust="spacingAndGlyphs">I00</text>
<text transform="translate(430.5,2455) rotate(90)" font-size="28" font-weight="bold" text-anchor="start" textLength="54" lengthAdjust="spacingAndGlyphs">39K</text>
<text transform="translate(658,2492.5) rotate(90)" font-size="28" font-weight="bold" text-anchor="start" textLength="54" lengthAdjust="spacingAndGlyphs">330</text>
<text transform="translate(721.8,2477.4) rotate(90)" font-size="28" font-weight="bold" text-anchor="start" textLength="88" lengthAdjust="spacingAndGlyphs">IN4I48</text>
<text transform="translate(721.8,2586.5) rotate(90)" font-size="28" font-weight="bold" text-anchor="start" textLength="47" lengthAdjust="spacingAndGlyphs">IK8</text>
<text transform="translate(547,2594) rotate(90)" font-size="29" font-weight="bold" text-anchor="start" textLength="105" lengthAdjust="spacingAndGlyphs">2N6556</text>
<text transform="translate(609,2633.5) rotate(90)" font-size="28" font-weight="bold" text-anchor="start" textLength="54" lengthAdjust="spacingAndGlyphs">4R7</text>
<text transform="translate(430.5,2607) rotate(90)" font-size="28" font-weight="bold" text-anchor="start" textLength="47" lengthAdjust="spacingAndGlyphs">I00</text>
<polyline points="758.3,2830 694.4,2830 694.4,2860.8" fill="none" stroke-width="3.8"/>
<polyline points="694.4,2860.8 686.4,2865.0 702.4,2873.5 686.4,2882.0 702.4,2890.4 686.4,2898.9 702.4,2907.3 686.4,2915.8 702.4,2924.2 686.4,2932.7 702.4,2941.2 694.4,2945.4" fill="none" stroke-width="3.8"/>
<line x1="694.4" y1="2945.4" x2="694.4" y2="2973.6" stroke-width="3.8"/>
<circle cx="763" cy="2861.0" r="7.5" fill="none" stroke-width="3"/>
<circle cx="763" cy="2875.5" r="7.5" fill="none" stroke-width="3"/>
<circle cx="763" cy="2890.0" r="7.5" fill="none" stroke-width="3"/>
<circle cx="763" cy="2904.5" r="7.5" fill="none" stroke-width="3"/>
<circle cx="763" cy="2919.0" r="7.5" fill="none" stroke-width="3"/>
<circle cx="763" cy="2933.5" r="7.5" fill="none" stroke-width="3"/>
<circle cx="763" cy="2948.0" r="7.5" fill="none" stroke-width="3"/>
<polyline points="758.3,2843 763,2853.5" fill="none" stroke-width="3.8"/>
<polyline points="763,2955 758.3,2962 758.3,3150" fill="none" stroke-width="3.8"/>
<circle cx="758.3" cy="2973.6" r="5.8" fill="#000" stroke="none"/>
<circle cx="694.4" cy="2973.6" r="5.8" fill="#000" stroke="none"/>
<circle cx="758.3" cy="3069.5" r="5.8" fill="#000" stroke="none"/>
<line x1="758.3" y1="2973.6" x2="679.3" y2="2973.6" stroke-width="3.8"/>
<polyline points="606,2973.6 610.6,2981.6 619.7,2965.6 628.9,2981.6 638.1,2965.6 647.2,2981.6 656.4,2965.6 665.6,2981.6 674.7,2965.6 679.3,2973.6" fill="none" stroke-width="3.8"/>
<line x1="592.9" y1="2973.6" x2="606" y2="2973.6" stroke-width="3.8"/>
<line x1="592.9" y1="2960" x2="592.9" y2="2988" stroke-width="3.8"/>
<line x1="583.5" y1="2960" x2="583.5" y2="2988" stroke-width="3.8"/>
<line x1="583.5" y1="2973.6" x2="525.2" y2="2973.6" stroke-width="3.8"/>
<polygon points="485.7,2973.6 525.2,2949.1 525.2,2998.1" fill="none" stroke-width="3.6" stroke-linejoin="miter"/>
<text transform="translate(502.7,2965.6) rotate(90)" font-size="30" font-weight="bold" text-anchor="start">3</text>
<circle cx="566.5" cy="2973.6" r="5.8" fill="#000" stroke="none"/>
<polyline points="566.5,2973.6 566.5,3186 619.2,3186" fill="none" stroke-width="3.8"/>
<rect x="619.2" y="3176.6" width="48.799999999999955" height="18.800000000000182" fill="#fff" stroke-width="3.6"/>
<polygon points="485.7,3095.8 527.0,3072.3 527.0,3119.3" fill="none" stroke-width="3.6" stroke-linejoin="miter"/>
<text transform="translate(502.7,3087.8) rotate(90)" font-size="30" font-weight="bold" text-anchor="start">I</text>
<polyline points="527,3095.8 692.5,3095.8 692.5,3190 701.9,3190" fill="none" stroke-width="3.8"/>
<circle cx="566.5" cy="3095.8" r="5.8" fill="#000" stroke="none"/>
<rect x="701.9" y="3180" width="48.89999999999998" height="19" fill="#fff" stroke-width="3.6"/>
<polyline points="758.3,3069.5 670,3069.5 670,3142.8 658.6,3152 673.7,3169" fill="none" stroke-width="3.8"/>
<polyline points="758.3,3150 745,3163.5 764,3180" fill="none" stroke-width="3.8"/>
<text transform="translate(713,2870) rotate(90)" font-size="28" font-weight="bold" text-anchor="start" textLength="51" lengthAdjust="spacingAndGlyphs">3R9</text>
<text transform="translate(645.5,2990.5) rotate(90)" font-size="28" font-weight="bold" text-anchor="start" textLength="52" lengthAdjust="spacingAndGlyphs">3R9</text>
<text transform="translate(587,3003.7) rotate(90)" font-size="27" font-weight="bold" text-anchor="start" textLength="50" lengthAdjust="spacingAndGlyphs">47n</text>
<text transform="translate(782.7,2872) rotate(90)" font-size="28" font-weight="bold" text-anchor="start" textLength="60" lengthAdjust="spacingAndGlyphs">5uH</text>
<text transform="translate(850.4,3014.7) rotate(90)" font-size="35" font-weight="bold" text-anchor="start" textLength="161" lengthAdjust="spacingAndGlyphs">SPEAKER</text>
<text transform="translate(812.8,3012.8) rotate(90)" font-size="35" font-weight="bold" text-anchor="start" textLength="154" lengthAdjust="spacingAndGlyphs">OUTPUTS</text>
<text transform="translate(784.6,3031.6) rotate(90)" font-size="29" font-weight="bold" text-anchor="start" textLength="120" lengthAdjust="spacingAndGlyphs">50W 8Ω</text>
<rect x="224.8" y="2118" width="74.69999999999999" height="1002" fill="none" stroke-width="4.5"/>
<line x1="259.5" y1="2118" x2="259.5" y2="3120" stroke-width="4"/>
<line x1="259.5" y1="2528" x2="299.5" y2="2528" stroke-width="4"/>
<line x1="224.8" y1="2457.5" x2="259.5" y2="2457.5" stroke-width="4"/>
<line x1="224.8" y1="2703.7" x2="259.5" y2="2703.7" stroke-width="4"/>
<line x1="224.8" y1="2878" x2="299.5" y2="2878" stroke-width="4.5"/>
<text transform="translate(265.3,2147) rotate(90)" font-size="33" font-weight="bold" text-anchor="start" textLength="371" lengthAdjust="spacingAndGlyphs">YORKVILLE  SOUND  LTD.</text>
<text transform="translate(265.5,2545) rotate(90)" font-size="35" font-weight="bold" text-anchor="start" textLength="298" lengthAdjust="spacingAndGlyphs">TS-50B AMPLIFIER</text>
<text transform="translate(265.8,2902) rotate(90)" font-size="31" font-weight="bold" text-anchor="start" textLength="212" lengthAdjust="spacingAndGlyphs">DATE-JULYI3-79</text>
<text transform="translate(231.5,2131.5) rotate(90)" font-size="31" font-weight="bold" text-anchor="start" textLength="300" lengthAdjust="spacingAndGlyphs">DESIGN-E.VON VALTIER</text>
<text transform="translate(231.5,2462) rotate(90)" font-size="31" font-weight="bold" text-anchor="start" textLength="225" lengthAdjust="spacingAndGlyphs">DWG.-J.E.TARSEY</text>
<text transform="translate(231.5,2711) rotate(90)" font-size="31" font-weight="bold" text-anchor="start" textLength="53" lengthAdjust="spacingAndGlyphs">APP.</text>
<text transform="translate(233.8,2896.5) rotate(90)" font-size="29" font-weight="bold" text-anchor="start" textLength="82" lengthAdjust="spacingAndGlyphs">Iss.No.</text>
<text transform="translate(318.4,3094) rotate(90)" font-size="50" font-weight="bold" text-anchor="start" textLength="122" lengthAdjust="spacingAndGlyphs">8938</text>
<ellipse cx="47" cy="270" rx="7" ry="5" fill="#000" stroke="none"/>
</svg>
</body></html>
